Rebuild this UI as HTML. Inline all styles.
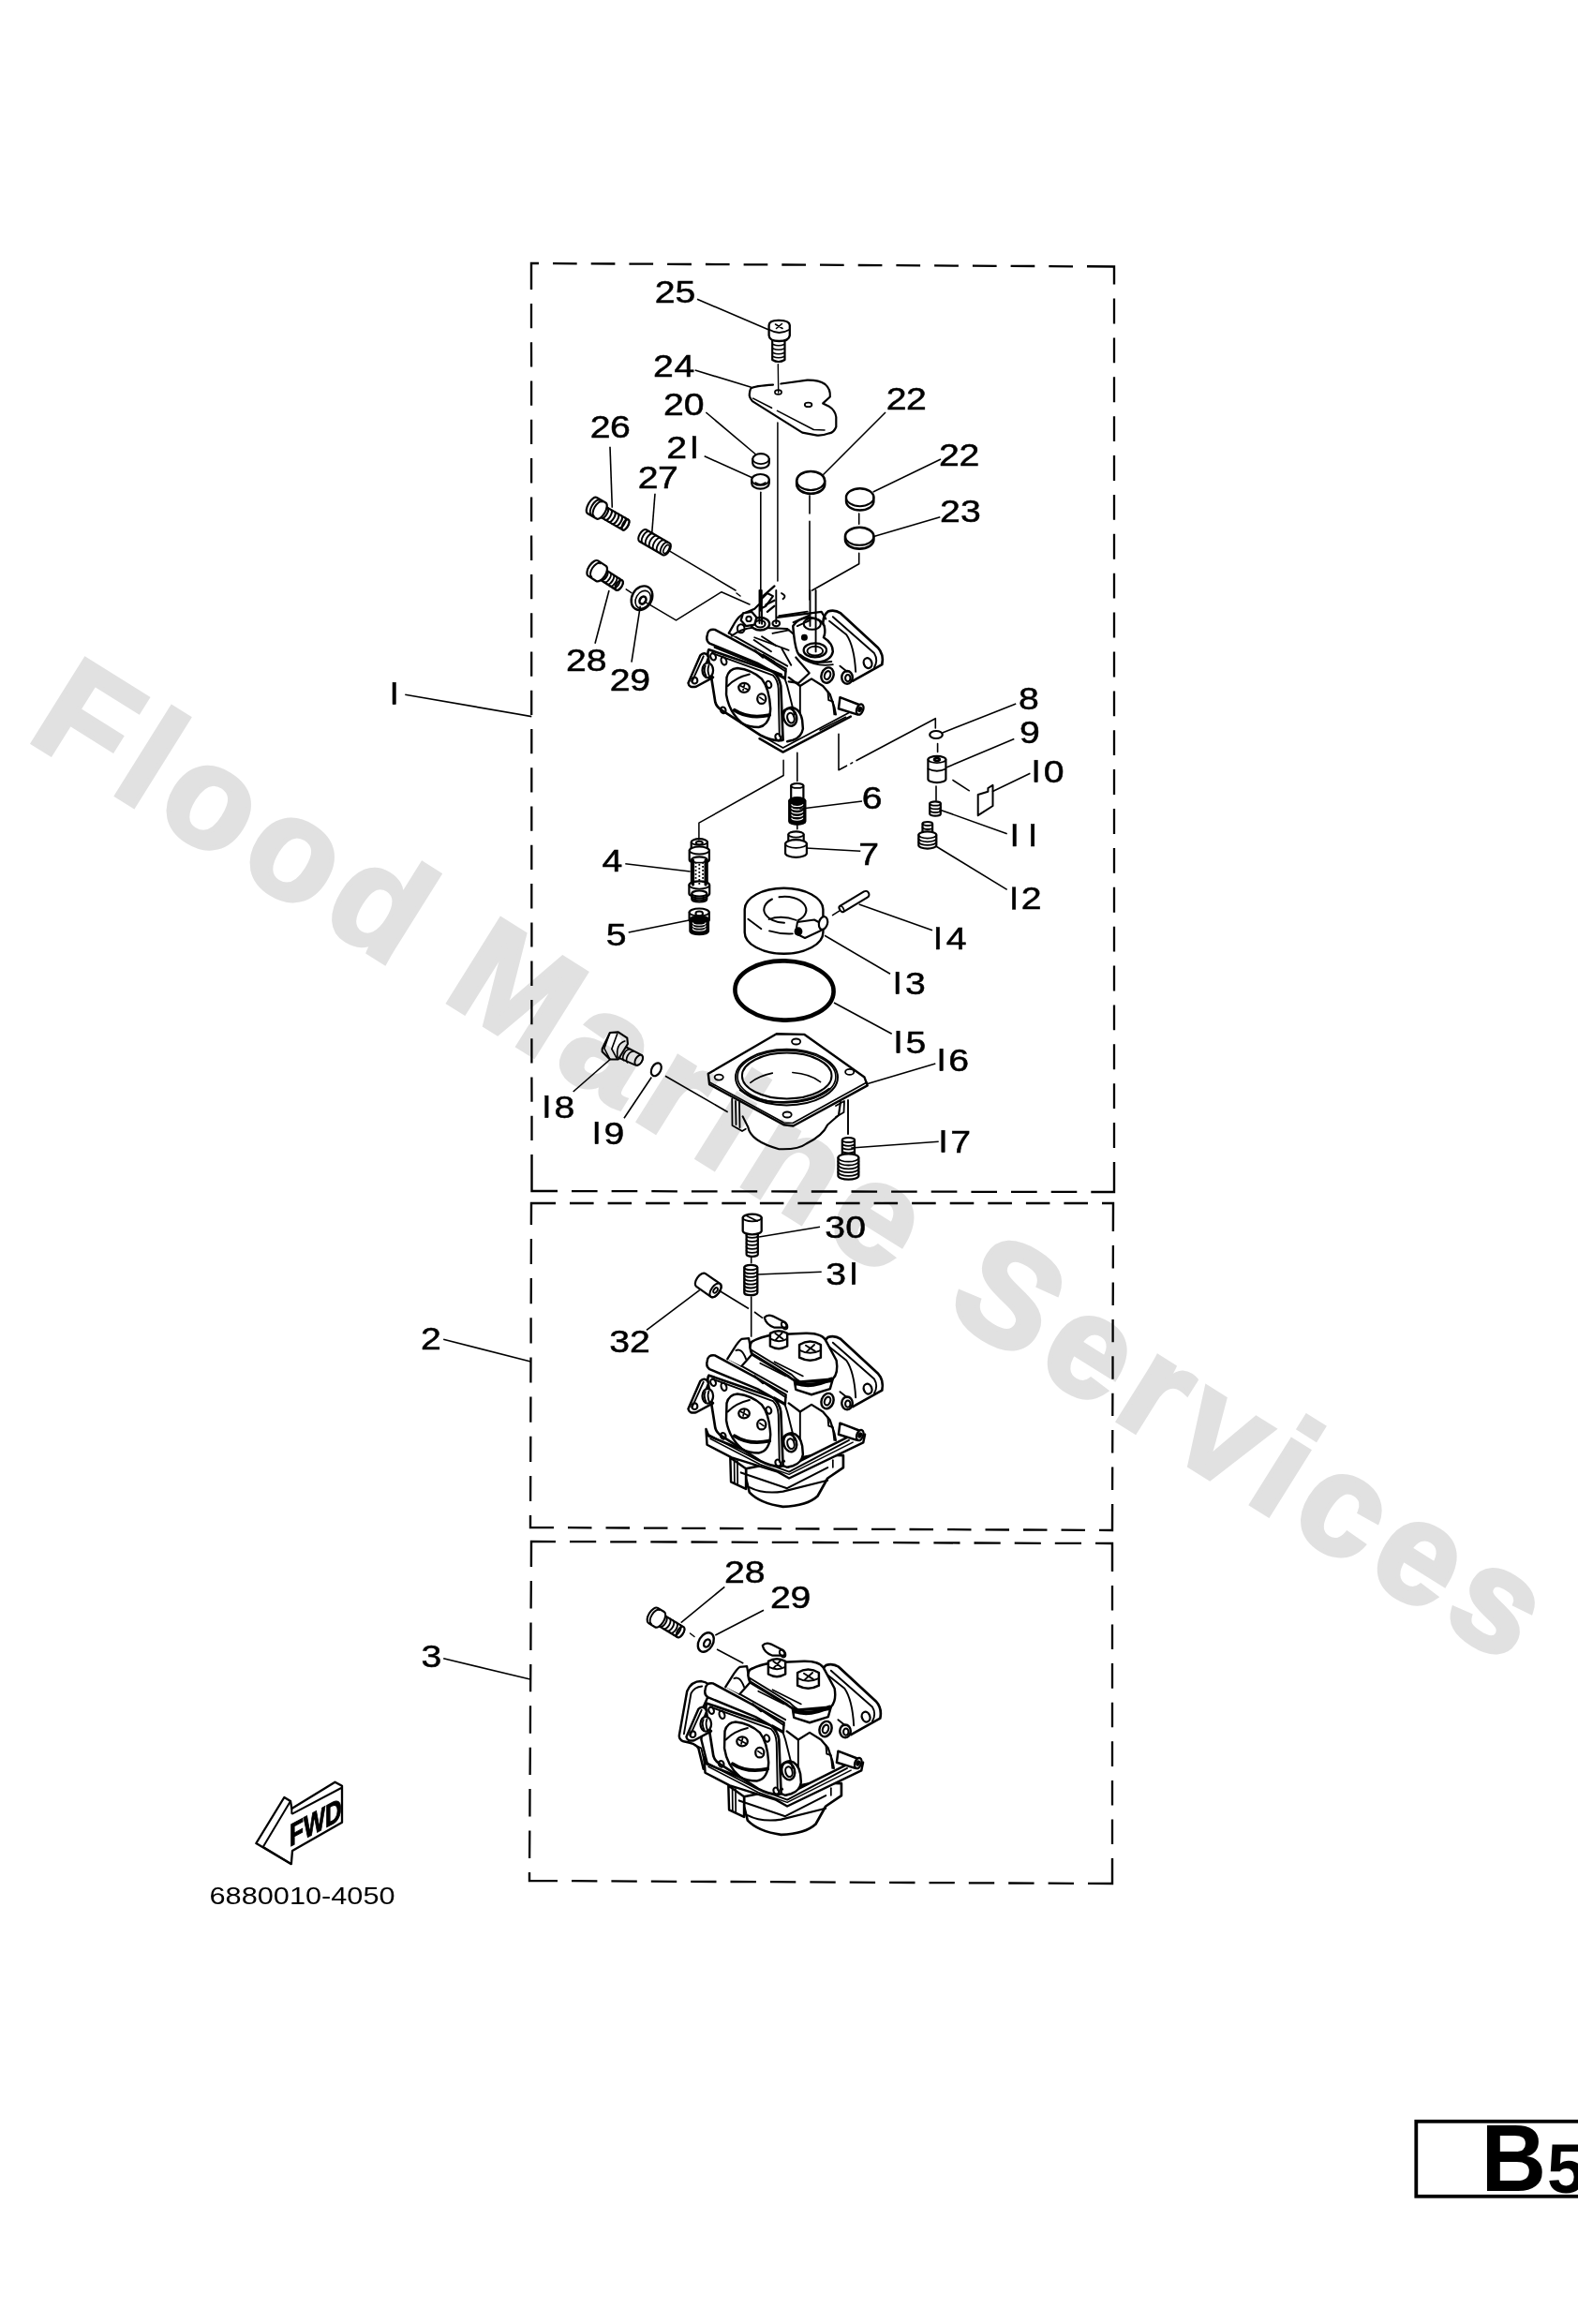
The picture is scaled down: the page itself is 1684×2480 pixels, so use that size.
<!DOCTYPE html>
<html><head><meta charset="utf-8">
<style>
html,body{margin:0;padding:0;background:#fff;}
body{width:1684px;height:2480px;overflow:hidden;position:relative;}
svg{position:absolute;left:0;top:0;}
text{font-family:"Liberation Sans",sans-serif;}
</style></head><body>
<svg width="1684" height="2480" viewBox="0 0 1684 2480">
<g id="carb1"><g transform="translate(720,625.5) scale(0.152091)"><path d="M1040,300 Q1035,205 1075,178 Q1120,160 1165,190 L1425,430 Q1470,480 1455,550 L1250,665 L1225,640" fill="#fff" stroke="#000" stroke-width="17.5" stroke-linejoin="round" stroke-linecap="round"/><path d="M1085,245 L1205,340 Q1260,420 1270,600" fill="none" stroke="#000" stroke-width="12.5" stroke-linejoin="round" stroke-linecap="round"/><path d="M1110,215 L1400,470 Q1430,520 1400,570" fill="none" stroke="#000" stroke-width="12.5" stroke-linejoin="round" stroke-linecap="round"/><ellipse cx="1355" cy="540" rx="28" ry="36" fill="none" stroke="#000" stroke-width="15.0" transform="rotate(-20 1355 540)"/><path d="M800,640 L880,700 L960,650 L1040,700 L1090,760 L1120,850 L1130,900" fill="none" stroke="#000" stroke-width="15.0" stroke-linejoin="round" stroke-linecap="round"/><path d="M880,700 L880,1010" fill="none" stroke="#000" stroke-width="12.5" stroke-linejoin="round" stroke-linecap="round"/><path d="M1075,740 L1080,800 L1110,810 L1120,900" fill="none" stroke="#000" stroke-width="12.5" stroke-linejoin="round" stroke-linecap="round"/><ellipse cx="1072" cy="625" rx="42" ry="55" fill="#fff" stroke="#000" stroke-width="16.2" transform="rotate(20 1072 625)"/><ellipse cx="1072" cy="625" rx="20" ry="30" fill="none" stroke="#000" stroke-width="13.8" transform="rotate(20 1072 625)"/><ellipse cx="1210" cy="640" rx="38" ry="45" fill="#fff" stroke="#000" stroke-width="16.2"/><ellipse cx="1215" cy="645" rx="18" ry="24" fill="none" stroke="#000" stroke-width="13.8"/><path d="M1160,560 L1210,600" fill="none" stroke="#000" stroke-width="12.5" stroke-linejoin="round" stroke-linecap="round"/><path d="M1160,780 L1290,830 A22,38 0 0 1 1280,900 L1150,860 Z" fill="#fff" stroke="#000" stroke-width="16.2" stroke-linejoin="round" stroke-linecap="round"/><ellipse cx="1300" cy="865" rx="22" ry="38" fill="#fff" stroke="#000" stroke-width="16.2" transform="rotate(20 1300 865)"/><ellipse cx="1300" cy="865" rx="8" ry="14" fill="#000" stroke="#000" stroke-width="15.0" transform="rotate(20 1300 865)"/><path d="M740,940 Q750,860 820,850 Q880,860 895,940 L900,1000 Q890,1060 830,1080 L790,1090" fill="#fff" stroke="#000" stroke-width="16.2" stroke-linejoin="round" stroke-linecap="round"/><ellipse cx="810" cy="920" rx="45" ry="62" fill="#fff" stroke="#000" stroke-width="16.2" transform="rotate(-15 810 920)"/><ellipse cx="815" cy="925" rx="24" ry="36" fill="none" stroke="#000" stroke-width="13.8" transform="rotate(-15 815 925)"/><path d="M240,445 Q228,460 235,500 L285,815 Q295,850 330,870 L600,1045 Q700,1095 760,1080 L745,700 Q735,640 690,600 Z" fill="#fff" stroke="#000" stroke-width="17.5" stroke-linejoin="round" stroke-linecap="round"/><path d="M262,470 L690,625 Q725,660 728,720 L735,1050" fill="none" stroke="#000" stroke-width="12.5" stroke-linejoin="round" stroke-linecap="round"/><path d="M365,640 Q380,580 440,575 Q540,585 610,650 Q665,720 672,860 Q668,975 590,990 Q520,990 470,960 Q380,880 362,760 Z" fill="none" stroke="#000" stroke-width="16.2" stroke-linejoin="round" stroke-linecap="round"/><path d="M372,700 Q430,640 525,618" fill="none" stroke="#000" stroke-width="13.8" stroke-linejoin="round" stroke-linecap="round"/><path d="M420,870 Q520,935 665,905" fill="none" stroke="#000" stroke-width="25.0" stroke-linejoin="round" stroke-linecap="round"/><ellipse cx="487" cy="712" rx="38" ry="33" fill="none" stroke="#000" stroke-width="15.0"/><path d="M465,700 L510,725 M490,690 L480,730" fill="none" stroke="#000" stroke-width="11.2" stroke-linejoin="round" stroke-linecap="round"/><ellipse cx="610" cy="790" rx="30" ry="35" fill="none" stroke="#000" stroke-width="15.0"/><path d="M597,780 L625,800" fill="none" stroke="#000" stroke-width="11.2" stroke-linejoin="round" stroke-linecap="round"/><ellipse cx="270" cy="495" rx="18" ry="25" fill="none" stroke="#000" stroke-width="13.8" transform="rotate(-20 270 495)"/><ellipse cx="345" cy="525" rx="18" ry="28" fill="none" stroke="#000" stroke-width="13.8" transform="rotate(-20 345 525)"/><ellipse cx="660" cy="690" rx="18" ry="25" fill="none" stroke="#000" stroke-width="13.8" transform="rotate(-20 660 690)"/><ellipse cx="340" cy="870" rx="18" ry="22" fill="none" stroke="#000" stroke-width="13.8" transform="rotate(-20 340 870)"/><ellipse cx="725" cy="1060" rx="18" ry="25" fill="none" stroke="#000" stroke-width="13.8" transform="rotate(-20 725 1060)"/><path d="M95,680 L180,485 Q200,462 225,478 L238,500 L205,590 L270,640 L150,705 Q100,715 95,680 Z" fill="#fff" stroke="#000" stroke-width="16.2" stroke-linejoin="round" stroke-linecap="round"/><path d="M122,668 L202,492" fill="none" stroke="#000" stroke-width="12.5" stroke-linejoin="round" stroke-linecap="round"/><ellipse cx="140" cy="662" rx="20" ry="22" fill="none" stroke="#000" stroke-width="13.8"/><ellipse cx="232" cy="590" rx="38" ry="52" fill="#fff" stroke="#000" stroke-width="15.0"/><path d="M215,560 Q200,590 220,630 M240,555 Q225,595 245,635" fill="none" stroke="#000" stroke-width="12.5" stroke-linejoin="round" stroke-linecap="round"/><path d="M228,345 Q232,298 282,305 L560,455 L780,580 L775,650 L580,540 L245,402 Q218,385 228,345 Z" fill="#fff" stroke="#000" stroke-width="16.2" stroke-linejoin="round" stroke-linecap="round"/><path d="M380,330 L790,560" fill="none" stroke="#000" stroke-width="12.5" stroke-linejoin="round" stroke-linecap="round"/><path d="M600,480 L780,600" fill="none" stroke="#000" stroke-width="11.2" stroke-linejoin="round" stroke-linecap="round"/><path d="M560,450 L620,500" fill="none" stroke="#000" stroke-width="15.0" stroke-linejoin="round" stroke-linecap="round"/><path d="M700,600 L770,640 L790,700 L840,900" fill="none" stroke="#000" stroke-width="12.5" stroke-linejoin="round" stroke-linecap="round"/></g><g transform="translate(720,630) scale(0.152091)"><path d="M380,300 L420,230 Q450,180 490,160 L560,130 L590,100 M720,190 L1030,150 L1060,200" fill="none" stroke="#000" stroke-width="15.0" stroke-linejoin="round" stroke-linecap="round"/><path d="M400,320 Q460,270 560,260 L790,270 L850,320" fill="#fff" stroke="#000" stroke-width="13.8" stroke-linejoin="round" stroke-linecap="round"/><ellipse cx="600" cy="235" rx="65" ry="45" fill="#fff" stroke="#000" stroke-width="16.2"/><ellipse cx="600" cy="235" rx="35" ry="25" fill="none" stroke="#000" stroke-width="13.8"/><ellipse cx="712" cy="232" rx="25" ry="20" fill="none" stroke="#000" stroke-width="13.8"/><ellipse cx="465" cy="268" rx="25" ry="30" fill="none" stroke="#000" stroke-width="13.8"/><path d="M830,250 Q860,200 940,190 Q1030,195 1050,250 Q1060,300 1045,330 Q1110,370 1110,430 Q1100,490 1010,505 Q890,500 860,430 Q840,380 830,250 Z" fill="#fff" stroke="#000" stroke-width="16.2" stroke-linejoin="round" stroke-linecap="round"/><ellipse cx="985" cy="420" rx="80" ry="50" fill="none" stroke="#000" stroke-width="15.0"/><ellipse cx="985" cy="425" rx="55" ry="32" fill="none" stroke="#000" stroke-width="12.5"/><ellipse cx="965" cy="235" rx="60" ry="40" fill="none" stroke="#000" stroke-width="13.8"/><ellipse cx="910" cy="330" rx="18" ry="18" fill="#000" stroke="#000" stroke-width="10.0"/><path d="M850,470 L945,580 L870,650 L800,640" fill="none" stroke="#000" stroke-width="13.8" stroke-linejoin="round" stroke-linecap="round"/><path d="M560,330 L800,420 M620,450 L700,500" fill="none" stroke="#000" stroke-width="11.2" stroke-linejoin="round" stroke-linecap="round"/><path d="M480,160 L540,150 L575,190 L560,240 L500,250 L465,210 Z" fill="#fff" stroke="#000" stroke-width="15.0" stroke-linejoin="round" stroke-linecap="round"/><ellipse cx="520" cy="200" rx="18" ry="18" fill="none" stroke="#000" stroke-width="12.5"/><path d="M280,400 L750,590 M557,349 L677,429 M612,324 L712,389 M752,409 L817,524" fill="none" stroke="#000" stroke-width="12.5" stroke-linejoin="round" stroke-linecap="round"/><path d="M687,302 L802,279 M732,179 L932,149" fill="none" stroke="#000" stroke-width="12.5" stroke-linejoin="round" stroke-linecap="round"/><path d="M832,224 L947,174 M860,250 L950,210 M880,450 Q960,520 1100,500 M900,480 Q1000,540 1110,520" fill="none" stroke="#000" stroke-width="12.5" stroke-linejoin="round" stroke-linecap="round"/><path d="M610,60 L650,20 L690,40 L640,110 L600,130 Z" fill="none" stroke="#000" stroke-width="13.8" stroke-linejoin="round" stroke-linecap="round"/><path d="M620,40 L700,-30 M640,100 L700,70 M650,150 L700,110" fill="none" stroke="#000" stroke-width="15.0" stroke-linejoin="round" stroke-linecap="round"/><path d="M750,20 Q790,40 760,60" fill="none" stroke="#000" stroke-width="12.5" stroke-linejoin="round" stroke-linecap="round"/><path d="M595,0 L595,230 M610,0 L612,235 M712,0 L712,230 M950,0 L950,250 M990,0 L990,430" fill="none" stroke="#000" stroke-width="12.5" stroke-linejoin="round" stroke-linecap="round"/><path d="M595,1040 L760,1135 L1235,885" fill="none" stroke="#000" stroke-width="16.2" stroke-linejoin="round" stroke-linecap="round"/><path d="M610,1020 L760,1105 L1220,860" fill="none" stroke="#000" stroke-width="11.2" stroke-linejoin="round" stroke-linecap="round"/><path d="M1020,980 L1200,890" fill="none" stroke="#000" stroke-width="11.2" stroke-linejoin="round" stroke-linecap="round"/></g></g><g id="carb2" transform="translate(720,1400) scale(0.152091)"><path d="M500,1167 L525,1267 Q600,1345 760,1367 Q930,1360 1003,1292 L1073,1167 L1183,1092 L1183,1007 L1000,1000 L500,1100 Z" fill="#fff" stroke="#000" stroke-width="17.5" stroke-linejoin="round" stroke-linecap="round"/><path d="M390,1022 L395,1192 L500,1242 L500,1100 Z" fill="#fff" stroke="#000" stroke-width="16.2" stroke-linejoin="round" stroke-linecap="round"/><path d="M418,1035 L420,1200 M440,1045 L442,1210" fill="none" stroke="#000" stroke-width="11.2" stroke-linejoin="round" stroke-linecap="round"/><path d="M465,1127 L789,1237 L1073,1092" fill="none" stroke="#000" stroke-width="13.8" stroke-linejoin="round" stroke-linecap="round"/><path d="M525,1230 Q620,1280 760,1260 L1073,1182" fill="none" stroke="#000" stroke-width="13.8" stroke-linejoin="round" stroke-linecap="round"/><path d="M1110,1040 L1110,1090" fill="none" stroke="#000" stroke-width="11.2" stroke-linejoin="round" stroke-linecap="round"/><path d="M220,822 L227,932 L400,1022 L723,1122 L803,1167 L1323,917 L1335,860 L1250,860 L790,1090 L240,872 Z" fill="#fff" stroke="#000" stroke-width="16.2" stroke-linejoin="round" stroke-linecap="round"/><path d="M235,860 L585,1042 L803,1122 L1223,900" fill="none" stroke="#000" stroke-width="12.5" stroke-linejoin="round" stroke-linecap="round"/><path d="M250,890 L600,1070 L803,1140 L1250,915" fill="none" stroke="#000" stroke-width="10.0" stroke-linejoin="round" stroke-linecap="round"/><path d="M1040,300 Q1035,205 1075,178 Q1120,160 1165,190 L1425,430 Q1470,480 1455,550 L1250,665 L1225,640" fill="#fff" stroke="#000" stroke-width="17.5" stroke-linejoin="round" stroke-linecap="round"/><path d="M1085,245 L1205,340 Q1260,420 1270,600" fill="none" stroke="#000" stroke-width="12.5" stroke-linejoin="round" stroke-linecap="round"/><path d="M1110,215 L1400,470 Q1430,520 1400,570" fill="none" stroke="#000" stroke-width="12.5" stroke-linejoin="round" stroke-linecap="round"/><ellipse cx="1355" cy="540" rx="28" ry="36" fill="none" stroke="#000" stroke-width="15.0" transform="rotate(-20 1355 540)"/><path d="M800,640 L880,700 L960,650 L1040,700 L1090,760 L1120,850 L1130,900" fill="none" stroke="#000" stroke-width="15.0" stroke-linejoin="round" stroke-linecap="round"/><path d="M880,700 L880,1010" fill="none" stroke="#000" stroke-width="12.5" stroke-linejoin="round" stroke-linecap="round"/><path d="M1075,740 L1080,800 L1110,810 L1120,900" fill="none" stroke="#000" stroke-width="12.5" stroke-linejoin="round" stroke-linecap="round"/><ellipse cx="1072" cy="625" rx="42" ry="55" fill="#fff" stroke="#000" stroke-width="16.2" transform="rotate(20 1072 625)"/><ellipse cx="1072" cy="625" rx="20" ry="30" fill="none" stroke="#000" stroke-width="13.8" transform="rotate(20 1072 625)"/><ellipse cx="1210" cy="640" rx="38" ry="45" fill="#fff" stroke="#000" stroke-width="16.2"/><ellipse cx="1215" cy="645" rx="18" ry="24" fill="none" stroke="#000" stroke-width="13.8"/><path d="M1160,560 L1210,600" fill="none" stroke="#000" stroke-width="12.5" stroke-linejoin="round" stroke-linecap="round"/><path d="M1160,780 L1290,830 A22,38 0 0 1 1280,900 L1150,860 Z" fill="#fff" stroke="#000" stroke-width="16.2" stroke-linejoin="round" stroke-linecap="round"/><ellipse cx="1300" cy="865" rx="22" ry="38" fill="#fff" stroke="#000" stroke-width="16.2" transform="rotate(20 1300 865)"/><ellipse cx="1300" cy="865" rx="8" ry="14" fill="#000" stroke="#000" stroke-width="15.0" transform="rotate(20 1300 865)"/><path d="M740,940 Q750,860 820,850 Q880,860 895,940 L900,1000 Q890,1060 830,1080 L790,1090" fill="#fff" stroke="#000" stroke-width="16.2" stroke-linejoin="round" stroke-linecap="round"/><ellipse cx="810" cy="920" rx="45" ry="62" fill="#fff" stroke="#000" stroke-width="16.2" transform="rotate(-15 810 920)"/><ellipse cx="815" cy="925" rx="24" ry="36" fill="none" stroke="#000" stroke-width="13.8" transform="rotate(-15 815 925)"/><path d="M240,445 Q228,460 235,500 L285,815 Q295,850 330,870 L600,1045 Q700,1095 760,1080 L745,700 Q735,640 690,600 Z" fill="#fff" stroke="#000" stroke-width="17.5" stroke-linejoin="round" stroke-linecap="round"/><path d="M262,470 L690,625 Q725,660 728,720 L735,1050" fill="none" stroke="#000" stroke-width="12.5" stroke-linejoin="round" stroke-linecap="round"/><path d="M365,640 Q380,580 440,575 Q540,585 610,650 Q665,720 672,860 Q668,975 590,990 Q520,990 470,960 Q380,880 362,760 Z" fill="none" stroke="#000" stroke-width="16.2" stroke-linejoin="round" stroke-linecap="round"/><path d="M372,700 Q430,640 525,618" fill="none" stroke="#000" stroke-width="13.8" stroke-linejoin="round" stroke-linecap="round"/><path d="M420,870 Q520,935 665,905" fill="none" stroke="#000" stroke-width="25.0" stroke-linejoin="round" stroke-linecap="round"/><ellipse cx="487" cy="712" rx="38" ry="33" fill="none" stroke="#000" stroke-width="15.0"/><path d="M465,700 L510,725 M490,690 L480,730" fill="none" stroke="#000" stroke-width="11.2" stroke-linejoin="round" stroke-linecap="round"/><ellipse cx="610" cy="790" rx="30" ry="35" fill="none" stroke="#000" stroke-width="15.0"/><path d="M597,780 L625,800" fill="none" stroke="#000" stroke-width="11.2" stroke-linejoin="round" stroke-linecap="round"/><ellipse cx="270" cy="495" rx="18" ry="25" fill="none" stroke="#000" stroke-width="13.8" transform="rotate(-20 270 495)"/><ellipse cx="345" cy="525" rx="18" ry="28" fill="none" stroke="#000" stroke-width="13.8" transform="rotate(-20 345 525)"/><ellipse cx="660" cy="690" rx="18" ry="25" fill="none" stroke="#000" stroke-width="13.8" transform="rotate(-20 660 690)"/><ellipse cx="340" cy="870" rx="18" ry="22" fill="none" stroke="#000" stroke-width="13.8" transform="rotate(-20 340 870)"/><ellipse cx="725" cy="1060" rx="18" ry="25" fill="none" stroke="#000" stroke-width="13.8" transform="rotate(-20 725 1060)"/><path d="M95,680 L180,485 Q200,462 225,478 L238,500 L205,590 L270,640 L150,705 Q100,715 95,680 Z" fill="#fff" stroke="#000" stroke-width="16.2" stroke-linejoin="round" stroke-linecap="round"/><path d="M122,668 L202,492" fill="none" stroke="#000" stroke-width="12.5" stroke-linejoin="round" stroke-linecap="round"/><ellipse cx="140" cy="662" rx="20" ry="22" fill="none" stroke="#000" stroke-width="13.8"/><ellipse cx="232" cy="590" rx="38" ry="52" fill="#fff" stroke="#000" stroke-width="15.0"/><path d="M215,560 Q200,590 220,630 M240,555 Q225,595 245,635" fill="none" stroke="#000" stroke-width="12.5" stroke-linejoin="round" stroke-linecap="round"/><path d="M228,345 Q232,298 282,305 L560,455 L780,580 L775,650 L580,540 L245,402 Q218,385 228,345 Z" fill="#fff" stroke="#000" stroke-width="16.2" stroke-linejoin="round" stroke-linecap="round"/><path d="M380,330 L790,560" fill="none" stroke="#000" stroke-width="12.5" stroke-linejoin="round" stroke-linecap="round"/><path d="M600,480 L780,600" fill="none" stroke="#000" stroke-width="11.2" stroke-linejoin="round" stroke-linecap="round"/><path d="M560,450 L620,500" fill="none" stroke="#000" stroke-width="15.0" stroke-linejoin="round" stroke-linecap="round"/><path d="M700,600 L770,640 L790,700 L840,900" fill="none" stroke="#000" stroke-width="12.5" stroke-linejoin="round" stroke-linecap="round"/><path d="M370,330 L420,250 Q450,205 470,190 L520,185 L540,300 L470,380" fill="#fff" stroke="#000" stroke-width="15.0" stroke-linejoin="round" stroke-linecap="round"/><path d="M430,270 Q470,250 500,330" fill="none" stroke="#000" stroke-width="12.5" stroke-linejoin="round" stroke-linecap="round"/><path d="M540,210 Q600,175 700,160 L920,150 Q1040,148 1065,210 L1135,340 Q1150,430 1110,470 L880,490 Q820,478 800,450 L545,295 Q515,250 540,210 Z" fill="#fff" stroke="#000" stroke-width="16.2" stroke-linejoin="round" stroke-linecap="round"/><path d="M535,265 L820,440 Q860,480 890,495 L1105,480" fill="none" stroke="#000" stroke-width="12.5" stroke-linejoin="round" stroke-linecap="round"/><path d="M545,300 L840,480 L850,545 L960,580 L1090,540 L1110,470" fill="none" stroke="#000" stroke-width="16.2" stroke-linejoin="round" stroke-linecap="round"/><path d="M850,500 Q960,540 1100,470" fill="none" stroke="#000" stroke-width="25.0" stroke-linejoin="round" stroke-linecap="round"/><path d="M850,510 L1100,490" fill="none" stroke="#000" stroke-width="11.2" stroke-linejoin="round" stroke-linecap="round"/><path d="M600,360 L780,450 M700,350 L900,450" fill="none" stroke="#000" stroke-width="11.2" stroke-linejoin="round" stroke-linecap="round"/><path d="M670,150 Q730,115 790,150 L790,240 Q730,275 670,240 Z" fill="#fff" stroke="#000" stroke-width="16.2" stroke-linejoin="round" stroke-linecap="round"/><path d="M675,190 Q730,220 788,190" fill="none" stroke="#000" stroke-width="12.5" stroke-linejoin="round" stroke-linecap="round"/><path d="M705,150 L760,190 M755,145 L710,195" fill="none" stroke="#000" stroke-width="12.5" stroke-linejoin="round" stroke-linecap="round"/><path d="M875,230 Q950,185 1025,230 L1025,320 Q950,360 875,320 Z" fill="#fff" stroke="#000" stroke-width="16.2" stroke-linejoin="round" stroke-linecap="round"/><path d="M880,270 Q950,305 1022,270" fill="none" stroke="#000" stroke-width="12.5" stroke-linejoin="round" stroke-linecap="round"/><path d="M920,235 L985,275 M980,230 L925,280" fill="none" stroke="#000" stroke-width="12.5" stroke-linejoin="round" stroke-linecap="round"/><path d="M630,40 Q650,15 690,30 L770,70 Q795,95 780,110 L700,110 Q640,90 630,40 Z" fill="#fff" stroke="#000" stroke-width="15.0" stroke-linejoin="round" stroke-linecap="round"/><ellipse cx="770" cy="95" rx="18" ry="28" fill="none" stroke="#000" stroke-width="13.8" transform="rotate(-30 770 95)"/></g><g id="carb3" transform="translate(718,1750) scale(0.152091)"><path d="M45,670 L100,360 Q130,290 200,290 Q262,300 270,345 L215,470 L205,600 L200,700 L240,860 L215,905 L180,760 Q160,725 75,712 Q42,700 45,670 Z" fill="#fff" stroke="#000" stroke-width="16.2" stroke-linejoin="round" stroke-linecap="round"/><path d="M78,660 L128,375 Q150,330 205,325" fill="none" stroke="#000" stroke-width="12.5" stroke-linejoin="round" stroke-linecap="round"/><path d="M160,740 L200,760 L225,870" fill="none" stroke="#000" stroke-width="12.5" stroke-linejoin="round" stroke-linecap="round"/><path d="M500,1167 L525,1267 Q600,1345 760,1367 Q930,1360 1003,1292 L1073,1167 L1183,1092 L1183,1007 L1000,1000 L500,1100 Z" fill="#fff" stroke="#000" stroke-width="17.5" stroke-linejoin="round" stroke-linecap="round"/><path d="M390,1022 L395,1192 L500,1242 L500,1100 Z" fill="#fff" stroke="#000" stroke-width="16.2" stroke-linejoin="round" stroke-linecap="round"/><path d="M418,1035 L420,1200 M440,1045 L442,1210" fill="none" stroke="#000" stroke-width="11.2" stroke-linejoin="round" stroke-linecap="round"/><path d="M465,1127 L789,1237 L1073,1092" fill="none" stroke="#000" stroke-width="13.8" stroke-linejoin="round" stroke-linecap="round"/><path d="M525,1230 Q620,1280 760,1260 L1073,1182" fill="none" stroke="#000" stroke-width="13.8" stroke-linejoin="round" stroke-linecap="round"/><path d="M1110,1040 L1110,1090" fill="none" stroke="#000" stroke-width="11.2" stroke-linejoin="round" stroke-linecap="round"/><path d="M220,822 L227,932 L400,1022 L723,1122 L803,1167 L1323,917 L1335,860 L1250,860 L790,1090 L240,872 Z" fill="#fff" stroke="#000" stroke-width="16.2" stroke-linejoin="round" stroke-linecap="round"/><path d="M235,860 L585,1042 L803,1122 L1223,900" fill="none" stroke="#000" stroke-width="12.5" stroke-linejoin="round" stroke-linecap="round"/><path d="M250,890 L600,1070 L803,1140 L1250,915" fill="none" stroke="#000" stroke-width="10.0" stroke-linejoin="round" stroke-linecap="round"/><path d="M1040,300 Q1035,205 1075,178 Q1120,160 1165,190 L1425,430 Q1470,480 1455,550 L1250,665 L1225,640" fill="#fff" stroke="#000" stroke-width="17.5" stroke-linejoin="round" stroke-linecap="round"/><path d="M1085,245 L1205,340 Q1260,420 1270,600" fill="none" stroke="#000" stroke-width="12.5" stroke-linejoin="round" stroke-linecap="round"/><path d="M1110,215 L1400,470 Q1430,520 1400,570" fill="none" stroke="#000" stroke-width="12.5" stroke-linejoin="round" stroke-linecap="round"/><ellipse cx="1355" cy="540" rx="28" ry="36" fill="none" stroke="#000" stroke-width="15.0" transform="rotate(-20 1355 540)"/><path d="M800,640 L880,700 L960,650 L1040,700 L1090,760 L1120,850 L1130,900" fill="none" stroke="#000" stroke-width="15.0" stroke-linejoin="round" stroke-linecap="round"/><path d="M880,700 L880,1010" fill="none" stroke="#000" stroke-width="12.5" stroke-linejoin="round" stroke-linecap="round"/><path d="M1075,740 L1080,800 L1110,810 L1120,900" fill="none" stroke="#000" stroke-width="12.5" stroke-linejoin="round" stroke-linecap="round"/><ellipse cx="1072" cy="625" rx="42" ry="55" fill="#fff" stroke="#000" stroke-width="16.2" transform="rotate(20 1072 625)"/><ellipse cx="1072" cy="625" rx="20" ry="30" fill="none" stroke="#000" stroke-width="13.8" transform="rotate(20 1072 625)"/><ellipse cx="1210" cy="640" rx="38" ry="45" fill="#fff" stroke="#000" stroke-width="16.2"/><ellipse cx="1215" cy="645" rx="18" ry="24" fill="none" stroke="#000" stroke-width="13.8"/><path d="M1160,560 L1210,600" fill="none" stroke="#000" stroke-width="12.5" stroke-linejoin="round" stroke-linecap="round"/><path d="M1160,780 L1290,830 A22,38 0 0 1 1280,900 L1150,860 Z" fill="#fff" stroke="#000" stroke-width="16.2" stroke-linejoin="round" stroke-linecap="round"/><ellipse cx="1300" cy="865" rx="22" ry="38" fill="#fff" stroke="#000" stroke-width="16.2" transform="rotate(20 1300 865)"/><ellipse cx="1300" cy="865" rx="8" ry="14" fill="#000" stroke="#000" stroke-width="15.0" transform="rotate(20 1300 865)"/><path d="M740,940 Q750,860 820,850 Q880,860 895,940 L900,1000 Q890,1060 830,1080 L790,1090" fill="#fff" stroke="#000" stroke-width="16.2" stroke-linejoin="round" stroke-linecap="round"/><ellipse cx="810" cy="920" rx="45" ry="62" fill="#fff" stroke="#000" stroke-width="16.2" transform="rotate(-15 810 920)"/><ellipse cx="815" cy="925" rx="24" ry="36" fill="none" stroke="#000" stroke-width="13.8" transform="rotate(-15 815 925)"/><path d="M240,445 Q228,460 235,500 L285,815 Q295,850 330,870 L600,1045 Q700,1095 760,1080 L745,700 Q735,640 690,600 Z" fill="#fff" stroke="#000" stroke-width="17.5" stroke-linejoin="round" stroke-linecap="round"/><path d="M262,470 L690,625 Q725,660 728,720 L735,1050" fill="none" stroke="#000" stroke-width="12.5" stroke-linejoin="round" stroke-linecap="round"/><path d="M365,640 Q380,580 440,575 Q540,585 610,650 Q665,720 672,860 Q668,975 590,990 Q520,990 470,960 Q380,880 362,760 Z" fill="none" stroke="#000" stroke-width="16.2" stroke-linejoin="round" stroke-linecap="round"/><path d="M372,700 Q430,640 525,618" fill="none" stroke="#000" stroke-width="13.8" stroke-linejoin="round" stroke-linecap="round"/><path d="M420,870 Q520,935 665,905" fill="none" stroke="#000" stroke-width="25.0" stroke-linejoin="round" stroke-linecap="round"/><ellipse cx="487" cy="712" rx="38" ry="33" fill="none" stroke="#000" stroke-width="15.0"/><path d="M465,700 L510,725 M490,690 L480,730" fill="none" stroke="#000" stroke-width="11.2" stroke-linejoin="round" stroke-linecap="round"/><ellipse cx="610" cy="790" rx="30" ry="35" fill="none" stroke="#000" stroke-width="15.0"/><path d="M597,780 L625,800" fill="none" stroke="#000" stroke-width="11.2" stroke-linejoin="round" stroke-linecap="round"/><ellipse cx="270" cy="495" rx="18" ry="25" fill="none" stroke="#000" stroke-width="13.8" transform="rotate(-20 270 495)"/><ellipse cx="345" cy="525" rx="18" ry="28" fill="none" stroke="#000" stroke-width="13.8" transform="rotate(-20 345 525)"/><ellipse cx="660" cy="690" rx="18" ry="25" fill="none" stroke="#000" stroke-width="13.8" transform="rotate(-20 660 690)"/><ellipse cx="340" cy="870" rx="18" ry="22" fill="none" stroke="#000" stroke-width="13.8" transform="rotate(-20 340 870)"/><ellipse cx="725" cy="1060" rx="18" ry="25" fill="none" stroke="#000" stroke-width="13.8" transform="rotate(-20 725 1060)"/><path d="M95,680 L180,485 Q200,462 225,478 L238,500 L205,590 L270,640 L150,705 Q100,715 95,680 Z" fill="#fff" stroke="#000" stroke-width="16.2" stroke-linejoin="round" stroke-linecap="round"/><path d="M122,668 L202,492" fill="none" stroke="#000" stroke-width="12.5" stroke-linejoin="round" stroke-linecap="round"/><ellipse cx="140" cy="662" rx="20" ry="22" fill="none" stroke="#000" stroke-width="13.8"/><ellipse cx="232" cy="590" rx="38" ry="52" fill="#fff" stroke="#000" stroke-width="15.0"/><path d="M215,560 Q200,590 220,630 M240,555 Q225,595 245,635" fill="none" stroke="#000" stroke-width="12.5" stroke-linejoin="round" stroke-linecap="round"/><path d="M228,345 Q232,298 282,305 L560,455 L780,580 L775,650 L580,540 L245,402 Q218,385 228,345 Z" fill="#fff" stroke="#000" stroke-width="16.2" stroke-linejoin="round" stroke-linecap="round"/><path d="M380,330 L790,560" fill="none" stroke="#000" stroke-width="12.5" stroke-linejoin="round" stroke-linecap="round"/><path d="M600,480 L780,600" fill="none" stroke="#000" stroke-width="11.2" stroke-linejoin="round" stroke-linecap="round"/><path d="M560,450 L620,500" fill="none" stroke="#000" stroke-width="15.0" stroke-linejoin="round" stroke-linecap="round"/><path d="M700,600 L770,640 L790,700 L840,900" fill="none" stroke="#000" stroke-width="12.5" stroke-linejoin="round" stroke-linecap="round"/><path d="M370,330 L420,250 Q450,205 470,190 L520,185 L540,300 L470,380" fill="#fff" stroke="#000" stroke-width="15.0" stroke-linejoin="round" stroke-linecap="round"/><path d="M430,270 Q470,250 500,330" fill="none" stroke="#000" stroke-width="12.5" stroke-linejoin="round" stroke-linecap="round"/><path d="M540,210 Q600,175 700,160 L920,150 Q1040,148 1065,210 L1135,340 Q1150,430 1110,470 L880,490 Q820,478 800,450 L545,295 Q515,250 540,210 Z" fill="#fff" stroke="#000" stroke-width="16.2" stroke-linejoin="round" stroke-linecap="round"/><path d="M535,265 L820,440 Q860,480 890,495 L1105,480" fill="none" stroke="#000" stroke-width="12.5" stroke-linejoin="round" stroke-linecap="round"/><path d="M545,300 L840,480 L850,545 L960,580 L1090,540 L1110,470" fill="none" stroke="#000" stroke-width="16.2" stroke-linejoin="round" stroke-linecap="round"/><path d="M850,500 Q960,540 1100,470" fill="none" stroke="#000" stroke-width="25.0" stroke-linejoin="round" stroke-linecap="round"/><path d="M850,510 L1100,490" fill="none" stroke="#000" stroke-width="11.2" stroke-linejoin="round" stroke-linecap="round"/><path d="M600,360 L780,450 M700,350 L900,450" fill="none" stroke="#000" stroke-width="11.2" stroke-linejoin="round" stroke-linecap="round"/><path d="M670,150 Q730,115 790,150 L790,240 Q730,275 670,240 Z" fill="#fff" stroke="#000" stroke-width="16.2" stroke-linejoin="round" stroke-linecap="round"/><path d="M675,190 Q730,220 788,190" fill="none" stroke="#000" stroke-width="12.5" stroke-linejoin="round" stroke-linecap="round"/><path d="M705,150 L760,190 M755,145 L710,195" fill="none" stroke="#000" stroke-width="12.5" stroke-linejoin="round" stroke-linecap="round"/><path d="M875,230 Q950,185 1025,230 L1025,320 Q950,360 875,320 Z" fill="#fff" stroke="#000" stroke-width="16.2" stroke-linejoin="round" stroke-linecap="round"/><path d="M880,270 Q950,305 1022,270" fill="none" stroke="#000" stroke-width="12.5" stroke-linejoin="round" stroke-linecap="round"/><path d="M920,235 L985,275 M980,230 L925,280" fill="none" stroke="#000" stroke-width="12.5" stroke-linejoin="round" stroke-linecap="round"/><path d="M630,40 Q650,15 690,30 L770,70 Q795,95 780,110 L700,110 Q640,90 630,40 Z" fill="#fff" stroke="#000" stroke-width="15.0" stroke-linejoin="round" stroke-linecap="round"/><ellipse cx="770" cy="95" rx="18" ry="28" fill="none" stroke="#000" stroke-width="13.8" transform="rotate(-30 770 95)"/></g>
<path d="M824.2,363 L824.2,384 Q830.8,388 837.5,384 L837.5,363" fill="#fff" stroke="#000" stroke-width="2.2" stroke-linejoin="round" stroke-linecap="round" />
<path d="M825,367.5 Q830.8,370.0 837,367.5" fill="none" stroke="#000" stroke-width="1.6" stroke-linejoin="round" stroke-linecap="round" />
<path d="M825,372 Q830.8,374.5 837,372" fill="none" stroke="#000" stroke-width="1.6" stroke-linejoin="round" stroke-linecap="round" />
<path d="M825,376.5 Q830.8,379.0 837,376.5" fill="none" stroke="#000" stroke-width="1.6" stroke-linejoin="round" stroke-linecap="round" />
<path d="M825,380.5 Q830.8,383.0 837,380.5" fill="none" stroke="#000" stroke-width="1.6" stroke-linejoin="round" stroke-linecap="round" />
<path d="M820.6,347 Q821,341.5 831.4,341.8 Q842.5,342 842.8,347 L842.8,358 Q842,364 831.4,364 Q821,364 820.6,358 Z" fill="#fff" stroke="#000" stroke-width="2.3" stroke-linejoin="round" stroke-linecap="round" />
<path d="M821.5,352 Q831.4,358 842,352" fill="none" stroke="#000" stroke-width="1.8" stroke-linejoin="round" stroke-linecap="round" />
<path d="M827.5,346 L835,350.5 M834.5,345.5 L828.5,350.5" fill="none" stroke="#000" stroke-width="1.6" stroke-linejoin="round" stroke-linecap="round" />
<path d="M830.3,388.6 L830.7,419" fill="none" stroke="#000" stroke-width="1.4" stroke-linejoin="round" stroke-linecap="round" />
<path d="M801.4,414.4 Q805,411.8 825,410.6 M833.3,409.5 L861.5,405.7 Q873.7,405.5 880.5,410 Q886.5,415 885.8,423.5 L878.2,430.4 L884.3,433.4 Q891.5,438 892.3,445 L892.3,455.5 Q890,461.5 885.1,462.3 Q878,465 872.1,464.6 L856.2,461.6 L802.9,428.1 Q799,423.5 799.9,419.8 Q800.2,416 801.4,414.4" fill="none" stroke="#000" stroke-width="2.2" stroke-linejoin="round" stroke-linecap="round" />
<path d="M803.7,425.1 L823.5,435.3 M829.5,438.4 L868.3,458.5 M868.3,458.5 L880,459" fill="none" stroke="#000" stroke-width="1.6" stroke-linejoin="round" stroke-linecap="round" />
<ellipse cx="830.5" cy="418.5" rx="3.6" ry="2.4" fill="none" stroke="#000" stroke-width="1.6"/>
<ellipse cx="862.6" cy="431.9" rx="3.8" ry="2.2" fill="none" stroke="#000" stroke-width="1.8"/>
<path d="M829.9,450.9 L829.9,620" fill="none" stroke="#000" stroke-width="1.5" stroke-linejoin="round" stroke-linecap="round" />
<path d="M803.2,489.7 A8.8,5.5 0 0 1 820.8,489.7 L820.8,494.2 A8.8,5.5 0 0 1 803.2,494.2 Z" fill="#fff" stroke="#000" stroke-width="2.2" stroke-linejoin="round" stroke-linecap="round" />
<path d="M803.2,489.7 A8.8,5.5 0 0 0 820.8,489.7" fill="none" stroke="#000" stroke-width="1.7600000000000002" stroke-linejoin="round" stroke-linecap="round" />
<path d="M802.2,512.0 A9.3,6.0 0 0 1 820.8,512.0 L820.8,515.7 A9.3,6.0 0 0 1 802.2,515.7 Z" fill="#fff" stroke="#000" stroke-width="2.2" stroke-linejoin="round" stroke-linecap="round" />
<path d="M802.2,512.0 A9.3,6.0 0 0 0 820.8,512.0" fill="none" stroke="#000" stroke-width="1.7600000000000002" stroke-linejoin="round" stroke-linecap="round" />
<path d="M806,515 Q811.5,519 817,515" fill="none" stroke="#000" stroke-width="1.6" stroke-linejoin="round" stroke-linecap="round" />
<path d="M850.2,513.0 A15.0,10.0 0 0 1 880.2,513.0 L880.2,516.8 A15.0,10.0 0 0 1 850.2,516.8 Z" fill="#fff" stroke="#000" stroke-width="2.6" stroke-linejoin="round" stroke-linecap="round" />
<path d="M850.2,513.0 A15.0,10.0 0 0 0 880.2,513.0" fill="none" stroke="#000" stroke-width="2.08" stroke-linejoin="round" stroke-linecap="round" />
<path d="M903.0,530.7 A14.7,9.5 0 0 1 932.4,530.7 L932.4,535.0 A14.7,9.5 0 0 1 903.0,535.0 Z" fill="#fff" stroke="#000" stroke-width="2.4" stroke-linejoin="round" stroke-linecap="round" />
<path d="M903.0,530.7 A14.7,9.5 0 0 0 932.4,530.7" fill="none" stroke="#000" stroke-width="1.92" stroke-linejoin="round" stroke-linecap="round" />
<path d="M902.0,572.3 A15.2,9.5 0 0 1 932.4,572.3 L932.4,576.1 A15.2,9.5 0 0 1 902.0,576.1 Z" fill="#fff" stroke="#000" stroke-width="2.6" stroke-linejoin="round" stroke-linecap="round" />
<path d="M902.0,572.3 A15.2,9.5 0 0 0 932.4,572.3" fill="none" stroke="#000" stroke-width="2.08" stroke-linejoin="round" stroke-linecap="round" />
<path d="M811.8,525.3 L811.8,652" fill="none" stroke="#000" stroke-width="1.6" stroke-linejoin="round" stroke-linecap="round" />
<path d="M864,528.8 L864,548 M864,556.2 L864,640" fill="none" stroke="#000" stroke-width="1.6" stroke-linejoin="round" stroke-linecap="round" />
<path d="M916.7,548 L916.7,559.2 M916.7,590.2 L916.7,601.7 L866.7,630" fill="none" stroke="#000" stroke-width="1.6" stroke-linejoin="round" stroke-linecap="round" />
<g transform="translate(632.0,539.5) rotate(30)"><path d="M11,-6.2 L41,-6.2 A2.79,6.2 0 0 1 41,6.2 L11,6.2" fill="#fff" stroke="#000" stroke-width="2.2" stroke-linejoin="round" stroke-linecap="round"/><ellipse cx="41" cy="0" rx="2.79" ry="6.2" fill="#fff" stroke="#000" stroke-width="2.2"/><path d="M15.3,-6.2 A2.79,6.2 0 0 1 15.3,6.2" fill="none" stroke="#000" stroke-width="1.9800000000000002" stroke-linejoin="round" stroke-linecap="round"/><path d="M19.6,-6.2 A2.79,6.2 0 0 1 19.6,6.2" fill="none" stroke="#000" stroke-width="1.9800000000000002" stroke-linejoin="round" stroke-linecap="round"/><path d="M23.9,-6.2 A2.79,6.2 0 0 1 23.9,6.2" fill="none" stroke="#000" stroke-width="1.9800000000000002" stroke-linejoin="round" stroke-linecap="round"/><path d="M28.1,-6.2 A2.79,6.2 0 0 1 28.1,6.2" fill="none" stroke="#000" stroke-width="1.9800000000000002" stroke-linejoin="round" stroke-linecap="round"/><path d="M32.4,-6.2 A2.79,6.2 0 0 1 32.4,6.2" fill="none" stroke="#000" stroke-width="1.9800000000000002" stroke-linejoin="round" stroke-linecap="round"/><path d="M36.7,-6.2 A2.79,6.2 0 0 1 36.7,6.2" fill="none" stroke="#000" stroke-width="1.9800000000000002" stroke-linejoin="round" stroke-linecap="round"/><path d="M11,-9.8 L0,-9.8 A4.41,9.8 0 0 0 0,9.8 L11,9.8 A4.41,9.8 0 0 0 11,-9.8" fill="#fff" stroke="#000" stroke-width="2.2" stroke-linejoin="round" stroke-linecap="round"/><path d="M3.8,-8.8 A3.97,8.8 0 0 0 3.8,8.8" fill="none" stroke="#000" stroke-width="1.9800000000000002" stroke-linejoin="round" stroke-linecap="round"/><path d="M7.1,-8.8 A3.97,8.8 0 0 0 7.1,8.8" fill="none" stroke="#000" stroke-width="1.9800000000000002" stroke-linejoin="round" stroke-linecap="round"/></g>
<g transform="translate(686,571.5) rotate(30)"><path d="M0,-7.2 L29,-7.2 A3.6,7.2 0 0 1 29,7.2 L0,7.2 A3.6,7.2 0 0 1 0,-7.2 Z" fill="#fff" stroke="#000" stroke-width="2.1"/><path d="M4.0,-7.2 A3.6,7.2 0 0 0 4.0,7.2" fill="none" stroke="#000" stroke-width="1.9"/><path d="M8.6,-7.2 A3.6,7.2 0 0 0 8.6,7.2" fill="none" stroke="#000" stroke-width="1.9"/><path d="M13.2,-7.2 A3.6,7.2 0 0 0 13.2,7.2" fill="none" stroke="#000" stroke-width="1.9"/><path d="M17.8,-7.2 A3.6,7.2 0 0 0 17.8,7.2" fill="none" stroke="#000" stroke-width="1.9"/><path d="M22.4,-7.2 A3.6,7.2 0 0 0 22.4,7.2" fill="none" stroke="#000" stroke-width="1.9"/><path d="M27.0,-7.2 A3.6,7.2 0 0 0 27.0,7.2" fill="none" stroke="#000" stroke-width="1.9"/><ellipse cx="29" cy="0" rx="2.4" ry="5" fill="none" stroke="#000" stroke-width="1.6"/></g>
<g transform="translate(633.0,606.5) rotate(33)"><path d="M10,-6.0 L33,-6.0 A3.0,6.0 0 0 1 33,6.0 L10,6.0" fill="#fff" stroke="#000" stroke-width="2.2" stroke-linejoin="round" stroke-linecap="round"/><ellipse cx="33" cy="0" rx="3.00" ry="6.0" fill="#fff" stroke="#000" stroke-width="2.2"/><path d="M13.8,-6.0 A3.00,6.0 0 0 1 13.8,6.0" fill="none" stroke="#000" stroke-width="1.9800000000000002" stroke-linejoin="round" stroke-linecap="round"/><path d="M17.7,-6.0 A3.00,6.0 0 0 1 17.7,6.0" fill="none" stroke="#000" stroke-width="1.9800000000000002" stroke-linejoin="round" stroke-linecap="round"/><path d="M21.5,-6.0 A3.00,6.0 0 0 1 21.5,6.0" fill="none" stroke="#000" stroke-width="1.9800000000000002" stroke-linejoin="round" stroke-linecap="round"/><path d="M25.3,-6.0 A3.00,6.0 0 0 1 25.3,6.0" fill="none" stroke="#000" stroke-width="1.9800000000000002" stroke-linejoin="round" stroke-linecap="round"/><path d="M29.2,-6.0 A3.00,6.0 0 0 1 29.2,6.0" fill="none" stroke="#000" stroke-width="1.9800000000000002" stroke-linejoin="round" stroke-linecap="round"/><path d="M10,-9.6 L0,-9.6 A4.8,9.6 0 0 0 0,9.6 L10,9.6 A4.8,9.6 0 0 0 10,-9.6" fill="#fff" stroke="#000" stroke-width="2.2" stroke-linejoin="round" stroke-linecap="round"/><path d="M3.5,-8.6 A4.32,8.6 0 0 0 3.5,8.6" fill="none" stroke="#000" stroke-width="1.9800000000000002" stroke-linejoin="round" stroke-linecap="round"/></g>
<ellipse cx="685.0" cy="638.2" rx="10.5" ry="13.5" fill="#fff" stroke="#000" stroke-width="2.4" transform="rotate(30 685.0 638.2)"/>
<ellipse cx="686.2" cy="639.8" rx="7.5" ry="10.0" fill="none" stroke="#000" stroke-width="1.6" transform="rotate(30 686.2 639.8)"/>
<ellipse cx="686.0" cy="640.6" rx="3.2" ry="4.2" fill="none" stroke="#000" stroke-width="2.6" transform="rotate(30 686.0 640.6)"/>
<path d="M713.5,587.4 L785,630 M786,633 L790,636" fill="none" stroke="#000" stroke-width="1.5" stroke-linejoin="round" stroke-linecap="round" />
<path d="M688,642.1 L721.5,661.9 L770,631.7 L800,645" fill="none" stroke="#000" stroke-width="1.5" stroke-linejoin="round" stroke-linecap="round" />
<path d="M668.2,628.8 L673.9,632.6" fill="none" stroke="#000" stroke-width="1.5" stroke-linejoin="round" stroke-linecap="round" />
<path d="M737.7,898.5 A8.6,3.3 0 0 1 754.9,898.5 L754.9,907.5 A8.6,3.3 0 0 1 737.7,907.5 Z" fill="#fff" stroke="#000" stroke-width="2.2" stroke-linejoin="round" stroke-linecap="round" />
<path d="M737.7,898.5 A8.6,3.3 0 0 0 754.9,898.5" fill="none" stroke="#000" stroke-width="1.7600000000000002" stroke-linejoin="round" stroke-linecap="round" />
<path d="M735.7,907.5 A10.6,4.0 0 0 1 756.9,907.5 L756.9,917.5 A10.6,4.0 0 0 1 735.7,917.5 Z" fill="#fff" stroke="#000" stroke-width="2.2" stroke-linejoin="round" stroke-linecap="round" />
<path d="M735.7,907.5 A10.6,4.0 0 0 0 756.9,907.5" fill="none" stroke="#000" stroke-width="1.7600000000000002" stroke-linejoin="round" stroke-linecap="round" />
<path d="M737.9,917.5 A8.4,3.2 0 0 1 754.7,917.5 L754.7,944.5 A8.4,3.2 0 0 1 737.9,944.5 Z" fill="#fff" stroke="#000" stroke-width="2.2" stroke-linejoin="round" stroke-linecap="round" />
<path d="M737.9,917.5 A8.4,3.2 0 0 0 754.7,917.5" fill="none" stroke="#000" stroke-width="1.7600000000000002" stroke-linejoin="round" stroke-linecap="round" />
<path d="M735.4,944.5 A10.9,4.1 0 0 1 757.2,944.5 L757.2,953.5 A10.9,4.1 0 0 1 735.4,953.5 Z" fill="#fff" stroke="#000" stroke-width="2.2" stroke-linejoin="round" stroke-linecap="round" />
<path d="M735.4,944.5 A10.9,4.1 0 0 0 757.2,944.5" fill="none" stroke="#000" stroke-width="1.7600000000000002" stroke-linejoin="round" stroke-linecap="round" />
<path d="M738.3,953.5 A8.0,3.0 0 0 1 754.3,953.5 L754.3,959.5 A8.0,3.0 0 0 1 738.3,959.5 Z" fill="#fff" stroke="#000" stroke-width="2.2" stroke-linejoin="round" stroke-linecap="round" />
<path d="M738.3,953.5 A8.0,3.0 0 0 0 754.3,953.5" fill="none" stroke="#000" stroke-width="1.7600000000000002" stroke-linejoin="round" stroke-linecap="round" />
<path d="M738.3,955.5 A8.0,3.0 0 0 0 754.3,955.5" fill="none" stroke="#000" stroke-width="1.7600000000000002" stroke-linejoin="round" stroke-linecap="round" />
<path d="M738.3,957.5 A8.0,3.0 0 0 0 754.3,957.5" fill="none" stroke="#000" stroke-width="1.7600000000000002" stroke-linejoin="round" stroke-linecap="round" />
<path d="M739.5,918 L739.5,944 M753.1,918 L753.1,944" fill="none" stroke="#000" stroke-width="3.2" stroke-linejoin="round" stroke-linecap="round" />
<rect x="741.6" y="920.0" width="1.8" height="1.8" fill="#000"/>
<rect x="745.4" y="922.0" width="1.8" height="1.8" fill="#000"/>
<rect x="749.2" y="920.0" width="1.8" height="1.8" fill="#000"/>
<rect x="741.6" y="924.0" width="1.8" height="1.8" fill="#000"/>
<rect x="745.4" y="926.0" width="1.8" height="1.8" fill="#000"/>
<rect x="749.2" y="924.0" width="1.8" height="1.8" fill="#000"/>
<rect x="741.6" y="928.0" width="1.8" height="1.8" fill="#000"/>
<rect x="745.4" y="930.0" width="1.8" height="1.8" fill="#000"/>
<rect x="749.2" y="928.0" width="1.8" height="1.8" fill="#000"/>
<rect x="741.6" y="932.0" width="1.8" height="1.8" fill="#000"/>
<rect x="745.4" y="934.0" width="1.8" height="1.8" fill="#000"/>
<rect x="749.2" y="932.0" width="1.8" height="1.8" fill="#000"/>
<rect x="741.6" y="936.0" width="1.8" height="1.8" fill="#000"/>
<rect x="745.4" y="938.0" width="1.8" height="1.8" fill="#000"/>
<rect x="749.2" y="936.0" width="1.8" height="1.8" fill="#000"/>
<rect x="741.6" y="940.0" width="1.8" height="1.8" fill="#000"/>
<rect x="745.4" y="942.0" width="1.8" height="1.8" fill="#000"/>
<rect x="749.2" y="940.0" width="1.8" height="1.8" fill="#000"/>
<ellipse cx="746.3" cy="899.5" rx="3.5" ry="1.8" fill="none" stroke="#000" stroke-width="2.0"/>
<path d="M735.6,973.5 A10.6,4.0 0 0 1 756.8,973.5 L756.8,981.5 A10.6,4.0 0 0 1 735.6,981.5 Z" fill="#fff" stroke="#000" stroke-width="2.2" stroke-linejoin="round" stroke-linecap="round" />
<path d="M735.6,973.5 A10.6,4.0 0 0 0 756.8,973.5" fill="none" stroke="#000" stroke-width="1.7600000000000002" stroke-linejoin="round" stroke-linecap="round" />
<path d="M736.4,981.5 A9.8,3.7 0 0 1 756.0,981.5 L756.0,993.5 A9.8,3.7 0 0 1 736.4,993.5 Z" fill="#000" stroke="#000" stroke-width="2.2" stroke-linejoin="round" stroke-linecap="round" />
<path d="M736.4,981.5 A9.8,3.7 0 0 0 756.0,981.5" fill="none" stroke="#000" stroke-width="1.7600000000000002" stroke-linejoin="round" stroke-linecap="round" />
<path d="M739.3,984.5 A6.9,2.6 0 0 0 753.1,984.5" fill="none" stroke="#fff" stroke-width="1.2"/>
<path d="M739.3,987.5 A6.9,2.6 0 0 0 753.1,987.5" fill="none" stroke="#fff" stroke-width="1.2"/>
<path d="M739.3,990.5 A6.9,2.6 0 0 0 753.1,990.5" fill="none" stroke="#fff" stroke-width="1.2"/>
<ellipse cx="746.2" cy="975.0" rx="3.8" ry="2.4" fill="none" stroke="#000" stroke-width="2.0"/>
<path d="M836.1,811.3 L836.1,827.5 L745.9,878.2 L745.9,896" fill="none" stroke="#000" stroke-width="1.5" stroke-linejoin="round" stroke-linecap="round" />
<path d="M844.2,838.5 A6.6,2.5 0 0 1 857.4,838.5 L857.4,854.5 A6.6,2.5 0 0 1 844.2,854.5 Z" fill="#fff" stroke="#000" stroke-width="2.2" stroke-linejoin="round" stroke-linecap="round" />
<path d="M844.2,838.5 A6.6,2.5 0 0 0 857.4,838.5" fill="none" stroke="#000" stroke-width="1.7600000000000002" stroke-linejoin="round" stroke-linecap="round" />
<path d="M842.2,854.5 A8.6,3.3 0 0 1 859.4,854.5 L859.4,876.5 A8.6,3.3 0 0 1 842.2,876.5 Z" fill="#000" stroke="#000" stroke-width="2.2" stroke-linejoin="round" stroke-linecap="round" />
<path d="M842.2,854.5 A8.6,3.3 0 0 0 859.4,854.5" fill="none" stroke="#000" stroke-width="1.7600000000000002" stroke-linejoin="round" stroke-linecap="round" />
<path d="M844.8,858.2 A6.0,2.3 0 0 0 856.8,858.2" fill="none" stroke="#fff" stroke-width="1.2"/>
<path d="M844.8,861.8 A6.0,2.3 0 0 0 856.8,861.8" fill="none" stroke="#fff" stroke-width="1.2"/>
<path d="M844.8,865.5 A6.0,2.3 0 0 0 856.8,865.5" fill="none" stroke="#fff" stroke-width="1.2"/>
<path d="M844.8,869.2 A6.0,2.3 0 0 0 856.8,869.2" fill="none" stroke="#fff" stroke-width="1.2"/>
<path d="M844.8,872.8 A6.0,2.3 0 0 0 856.8,872.8" fill="none" stroke="#fff" stroke-width="1.2"/>
<path d="M850.8,803.2 L850.8,833.6 M850.8,881.3 L850.8,884.8" fill="none" stroke="#000" stroke-width="1.6" stroke-linejoin="round" stroke-linecap="round" />
<path d="M841.3,890.5 A8.2,3.1 0 0 1 857.7,890.5 L857.7,900.5 A8.2,3.1 0 0 1 841.3,900.5 Z" fill="#fff" stroke="#000" stroke-width="2.2" stroke-linejoin="round" stroke-linecap="round" />
<path d="M841.3,890.5 A8.2,3.1 0 0 0 857.7,890.5" fill="none" stroke="#000" stroke-width="1.7600000000000002" stroke-linejoin="round" stroke-linecap="round" />
<path d="M838.1,900.5 A11.4,4.3 0 0 1 860.9,900.5 L860.9,910.5 A11.4,4.3 0 0 1 838.1,910.5 Z" fill="#fff" stroke="#000" stroke-width="2.2" stroke-linejoin="round" stroke-linecap="round" />
<path d="M838.1,900.5 A11.4,4.3 0 0 0 860.9,900.5" fill="none" stroke="#000" stroke-width="1.7600000000000002" stroke-linejoin="round" stroke-linecap="round" />
<ellipse cx="999.0" cy="784.0" rx="6.8" ry="4.0" fill="none" stroke="#000" stroke-width="2.2"/>
<path d="M895,783.3 L895,821.7 L998.3,766.7 L998.3,777" fill="none" stroke="#000" stroke-width="1.6" stroke-linejoin="round" stroke-linecap="round" stroke-dasharray="48 5 2 5 200"/>
<path d="M1000.6,793.5 L1000.6,802.4 M999,839.1 L999,854.3" fill="none" stroke="#000" stroke-width="1.6" stroke-linejoin="round" stroke-linecap="round" />
<path d="M990.4,810.5 A9.5,3.6 0 0 1 1009.4,810.5 L1009.4,831.5 A9.5,3.6 0 0 1 990.4,831.5 Z" fill="#fff" stroke="#000" stroke-width="2.2" stroke-linejoin="round" stroke-linecap="round" />
<path d="M990.4,810.5 A9.5,3.6 0 0 0 1009.4,810.5" fill="none" stroke="#000" stroke-width="1.7600000000000002" stroke-linejoin="round" stroke-linecap="round" />
<path d="M990.5,820.5 Q999.9,825 1009.3,820.5" fill="none" stroke="#000" stroke-width="1.8" stroke-linejoin="round" stroke-linecap="round" />
<ellipse cx="999.9" cy="810.5" rx="3.0" ry="1.5" fill="none" stroke="#000" stroke-width="2.4"/>
<path d="M992.2,857.5 A5.8,2.2 0 0 1 1003.8,857.5 L1003.8,868.5 A5.8,2.2 0 0 1 992.2,868.5 Z" fill="#fff" stroke="#000" stroke-width="2.2" stroke-linejoin="round" stroke-linecap="round" />
<path d="M992.2,857.5 A5.8,2.2 0 0 0 1003.8,857.5" fill="none" stroke="#000" stroke-width="1.7600000000000002" stroke-linejoin="round" stroke-linecap="round" />
<path d="M992.2,861.2 A5.8,2.2 0 0 0 1003.8,861.2" fill="none" stroke="#000" stroke-width="1.7600000000000002" stroke-linejoin="round" stroke-linecap="round" />
<path d="M992.2,864.8 A5.8,2.2 0 0 0 1003.8,864.8" fill="none" stroke="#000" stroke-width="1.7600000000000002" stroke-linejoin="round" stroke-linecap="round" />
<path d="M984.5,879.0 A5.3,2.0 0 0 1 995.1,879.0 L995.1,891.0 A5.3,2.0 0 0 1 984.5,891.0 Z" fill="#fff" stroke="#000" stroke-width="2.2" stroke-linejoin="round" stroke-linecap="round" />
<path d="M984.5,879.0 A5.3,2.0 0 0 0 995.1,879.0" fill="none" stroke="#000" stroke-width="1.7600000000000002" stroke-linejoin="round" stroke-linecap="round" />
<path d="M984.5,883.0 A5.3,2.0 0 0 0 995.1,883.0" fill="none" stroke="#000" stroke-width="1.7600000000000002" stroke-linejoin="round" stroke-linecap="round" />
<path d="M984.5,887.0 A5.3,2.0 0 0 0 995.1,887.0" fill="none" stroke="#000" stroke-width="1.7600000000000002" stroke-linejoin="round" stroke-linecap="round" />
<path d="M980.3,891.0 A9.5,3.6 0 0 1 999.3,891.0 L999.3,902.0 A9.5,3.6 0 0 1 980.3,902.0 Z" fill="#fff" stroke="#000" stroke-width="2.2" stroke-linejoin="round" stroke-linecap="round" />
<path d="M980.3,891.0 A9.5,3.6 0 0 0 999.3,891.0" fill="none" stroke="#000" stroke-width="1.7600000000000002" stroke-linejoin="round" stroke-linecap="round" />
<path d="M980.3,894.7 A9.5,3.6 0 0 0 999.3,894.7" fill="none" stroke="#000" stroke-width="1.7600000000000002" stroke-linejoin="round" stroke-linecap="round" />
<path d="M980.3,898.3 A9.5,3.6 0 0 0 999.3,898.3" fill="none" stroke="#000" stroke-width="1.7600000000000002" stroke-linejoin="round" stroke-linecap="round" />
<path d="M1043.7,848 L1054.4,844.8 L1054.4,841 L1059.5,837.9 L1059.5,860 L1043.7,870.2 Z" fill="none" stroke="#000" stroke-width="2.0" stroke-linejoin="round" stroke-linecap="round" />
<path d="M794.7,970.6 A41.8,22.8 0 0 1 878.4,970.6 L878.4,994.9 A41.8,22.8 0 0 1 794.7,994.9 Z" fill="#fff" stroke="#000" stroke-width="2.4" stroke-linejoin="round" stroke-linecap="round" />
<path d="M824,959.5 A23,14.2 0 0 0 837,984.8 M831.5,957.3 A23,14.2 0 0 1 852,982" fill="none" stroke="#000" stroke-width="2.0" stroke-linejoin="round" stroke-linecap="round" />
<path d="M820.5,981 Q834,976 850,982" fill="none" stroke="#000" stroke-width="1.8" stroke-linejoin="round" stroke-linecap="round" />
<path d="M798.3,980.7 L812.4,991.3 M821,993.4 Q833,997 845.9,996.4" fill="none" stroke="#000" stroke-width="1.8" stroke-linejoin="round" stroke-linecap="round" />
<path d="M851,984 L869,981.5 L879,987 L876,993 L859,1001 L849,996 Z" fill="#fff" stroke="#000" stroke-width="2.0" stroke-linejoin="round" stroke-linecap="round" />
<ellipse cx="878.5" cy="985.0" rx="4.5" ry="7.0" fill="#fff" stroke="#000" stroke-width="2.2" transform="rotate(15 878.5 985.0)"/>
<ellipse cx="852.0" cy="994.0" rx="3.2" ry="3.6" fill="#000" stroke="#000" stroke-width="2.4"/>
<g transform="translate(898.1,970) rotate(-31)"><path d="M0,-3.6 L30,-3.6 A3.6,3.6 0 0 1 30,3.6 L0,3.6 A2,3.6 0 0 1 0,-3.6 Z" fill="#fff" stroke="#000" stroke-width="2.1"/><path d="M0,-3.6 A2,3.6 0 0 1 0,3.6" fill="none" stroke="#000" stroke-width="1.6"/></g>
<path d="M888.5,976.6 L895.6,972.1" fill="none" stroke="#000" stroke-width="1.5" stroke-linejoin="round" stroke-linecap="round" />
<ellipse cx="837.0" cy="1057.0" rx="52.6" ry="31.6" fill="none" stroke="#000" stroke-width="4.6" transform="rotate(1.5 837.0 1057.0)"/>
<path d="M781.2,1172.4 L781.5,1201 L792,1207 L795.8,1204.7 M785,1175 L785.5,1200 M789,1176 L789.5,1203" fill="none" stroke="#000" stroke-width="1.8" stroke-linejoin="round" stroke-linecap="round" />
<path d="M792.6,1191.4 L798.3,1202.8 Q801,1218 831.3,1226.2 Q852,1227 860.4,1220.5 Q878,1212 883.2,1200.3 L895,1190 L897,1176" fill="none" stroke="#000" stroke-width="2.1" stroke-linejoin="round" stroke-linecap="round" />
<path d="M892,1180 L901,1175 L900.5,1187 L892,1192" fill="none" stroke="#000" stroke-width="1.8" stroke-linejoin="round" stroke-linecap="round" />
<path d="M828.7,1103.3 L858.5,1103.9 L922.5,1149.6 L925.7,1158.4 L846.5,1201.5 L836.3,1200.3 L757.1,1157.2 L755.8,1145.8 Z" fill="#fff" stroke="#000" stroke-width="2.4" stroke-linejoin="round" stroke-linecap="round" />
<path d="M757.5,1155 L836.5,1198 L846,1198.5 L925,1155" fill="none" stroke="#000" stroke-width="1.6" stroke-linejoin="round" stroke-linecap="round" />
<ellipse cx="839.5" cy="1149.6" rx="54.5" ry="29.8" fill="none" stroke="#000" stroke-width="2.0"/>
<ellipse cx="839.5" cy="1149.0" rx="52.4" ry="27.8" fill="none" stroke="#000" stroke-width="1.6"/>
<ellipse cx="839.7" cy="1148.0" rx="47.8" ry="24.4" fill="none" stroke="#000" stroke-width="2.0"/>
<path d="M790,1163 Q810,1178 840,1176 Q868,1175 885,1162" fill="none" stroke="#000" stroke-width="2.6" stroke-linejoin="round" stroke-linecap="round" />
<path d="M800.8,1155.3 Q810,1148 824.3,1145.1 M845.8,1144.5 Q865,1146 875.6,1154.6" fill="none" stroke="#000" stroke-width="1.6" stroke-linejoin="round" stroke-linecap="round" />
<ellipse cx="767.2" cy="1149.6" rx="4.6" ry="3.0" fill="none" stroke="#000" stroke-width="1.8"/>
<ellipse cx="849.6" cy="1111.5" rx="4.6" ry="3.0" fill="none" stroke="#000" stroke-width="1.8"/>
<ellipse cx="906.7" cy="1143.9" rx="4.6" ry="3.0" fill="none" stroke="#000" stroke-width="1.8"/>
<ellipse cx="840.1" cy="1189.5" rx="4.6" ry="3.0" fill="none" stroke="#000" stroke-width="1.8"/>
<path d="M905,1174.3 L905,1210.4" fill="none" stroke="#000" stroke-width="1.6" stroke-linejoin="round" stroke-linecap="round" />
<path d="M898.8,1216.5 A6.6,2.5 0 0 1 912.0,1216.5 L912.0,1235.5 A6.6,2.5 0 0 1 898.8,1235.5 Z" fill="#fff" stroke="#000" stroke-width="2.2" stroke-linejoin="round" stroke-linecap="round" />
<path d="M898.8,1216.5 A6.6,2.5 0 0 0 912.0,1216.5" fill="none" stroke="#000" stroke-width="1.7600000000000002" stroke-linejoin="round" stroke-linecap="round" />
<path d="M898.8,1220.3 A6.6,2.5 0 0 0 912.0,1220.3" fill="none" stroke="#000" stroke-width="1.7600000000000002" stroke-linejoin="round" stroke-linecap="round" />
<path d="M898.8,1224.1 A6.6,2.5 0 0 0 912.0,1224.1" fill="none" stroke="#000" stroke-width="1.7600000000000002" stroke-linejoin="round" stroke-linecap="round" />
<path d="M898.8,1227.9 A6.6,2.5 0 0 0 912.0,1227.9" fill="none" stroke="#000" stroke-width="1.7600000000000002" stroke-linejoin="round" stroke-linecap="round" />
<path d="M898.8,1231.7 A6.6,2.5 0 0 0 912.0,1231.7" fill="none" stroke="#000" stroke-width="1.7600000000000002" stroke-linejoin="round" stroke-linecap="round" />
<path d="M894.4,1235.5 A11.0,4.2 0 0 1 916.4,1235.5 L916.4,1254.5 A11.0,4.2 0 0 1 894.4,1254.5 Z" fill="#fff" stroke="#000" stroke-width="2.2" stroke-linejoin="round" stroke-linecap="round" />
<path d="M894.4,1235.5 A11.0,4.2 0 0 0 916.4,1235.5" fill="none" stroke="#000" stroke-width="1.7600000000000002" stroke-linejoin="round" stroke-linecap="round" />
<path d="M894.4,1239.3 A11.0,4.2 0 0 0 916.4,1239.3" fill="none" stroke="#000" stroke-width="1.7600000000000002" stroke-linejoin="round" stroke-linecap="round" />
<path d="M894.4,1243.1 A11.0,4.2 0 0 0 916.4,1243.1" fill="none" stroke="#000" stroke-width="1.7600000000000002" stroke-linejoin="round" stroke-linecap="round" />
<path d="M894.4,1246.9 A11.0,4.2 0 0 0 916.4,1246.9" fill="none" stroke="#000" stroke-width="1.7600000000000002" stroke-linejoin="round" stroke-linecap="round" />
<path d="M894.4,1250.7 A11.0,4.2 0 0 0 916.4,1250.7" fill="none" stroke="#000" stroke-width="1.7600000000000002" stroke-linejoin="round" stroke-linecap="round" />
<g transform="translate(630,1095) scale(0.063371)"><path d="M560,330 L870,490 A60,100 30 0 1 760,655 L470,530 Z" fill="#fff" stroke="#000" stroke-width="30" stroke-linejoin="round"/><ellipse cx="815" cy="572" rx="55" ry="95" transform="rotate(30 815 572)" fill="#fff" stroke="#000" stroke-width="30"/><path d="M620,360 A55,95 30 0 0 510,550" fill="none" stroke="#000" stroke-width="27.0"/><path d="M680,395 A55,95 30 0 0 570,585" fill="none" stroke="#000" stroke-width="27.0"/><path d="M740,430 A55,95 30 0 0 630,620" fill="none" stroke="#000" stroke-width="27.0"/><path d="M200,380 L330,110 L470,100 L620,200 L630,300 L470,560 L330,560 L200,430 Z" fill="#fff" stroke="#000" stroke-width="33.0" stroke-linejoin="round"/><path d="M330,110 L235,375 L330,560 M455,125 L360,385 L450,550" fill="none" stroke="#000" stroke-width="25.5"/><path d="M590,250 Q420,300 460,540" fill="none" stroke="#000" stroke-width="25.5"/></g>
<ellipse cx="700.3" cy="1141.3" rx="4.8" ry="7.4" fill="none" stroke="#000" stroke-width="2.2" transform="rotate(28 700.3 1141.3)"/>
<path d="M796.6,1314.5 A6.1,2.3 0 0 1 808.8,1314.5 L808.8,1338.5 A6.1,2.3 0 0 1 796.6,1338.5 Z" fill="#fff" stroke="#000" stroke-width="2.2" stroke-linejoin="round" stroke-linecap="round" />
<path d="M796.6,1314.5 A6.1,2.3 0 0 0 808.8,1314.5" fill="none" stroke="#000" stroke-width="1.7600000000000002" stroke-linejoin="round" stroke-linecap="round" />
<path d="M796.6,1318.5 A6.1,2.3 0 0 0 808.8,1318.5" fill="none" stroke="#000" stroke-width="1.7600000000000002" stroke-linejoin="round" stroke-linecap="round" />
<path d="M796.6,1322.5 A6.1,2.3 0 0 0 808.8,1322.5" fill="none" stroke="#000" stroke-width="1.7600000000000002" stroke-linejoin="round" stroke-linecap="round" />
<path d="M796.6,1326.5 A6.1,2.3 0 0 0 808.8,1326.5" fill="none" stroke="#000" stroke-width="1.7600000000000002" stroke-linejoin="round" stroke-linecap="round" />
<path d="M796.6,1330.5 A6.1,2.3 0 0 0 808.8,1330.5" fill="none" stroke="#000" stroke-width="1.7600000000000002" stroke-linejoin="round" stroke-linecap="round" />
<path d="M796.6,1334.5 A6.1,2.3 0 0 0 808.8,1334.5" fill="none" stroke="#000" stroke-width="1.7600000000000002" stroke-linejoin="round" stroke-linecap="round" />
<path d="M792.7,1299.5 A10.0,3.8 0 0 1 812.7,1299.5 L812.7,1313.5 A10.0,3.8 0 0 1 792.7,1313.5 Z" fill="#fff" stroke="#000" stroke-width="2.3" stroke-linejoin="round" stroke-linecap="round" />
<path d="M792.7,1299.5 A10.0,3.8 0 0 0 812.7,1299.5" fill="none" stroke="#000" stroke-width="1.8399999999999999" stroke-linejoin="round" stroke-linecap="round" />
<path d="M797,1297.5 L808,1303" fill="none" stroke="#000" stroke-width="1.8" stroke-linejoin="round" stroke-linecap="round" />
<path d="M794.3,1352.5 A7.0,2.7 0 0 1 808.3,1352.5 L808.3,1379.5 A7.0,2.7 0 0 1 794.3,1379.5 Z" fill="#fff" stroke="#000" stroke-width="2.3" stroke-linejoin="round" stroke-linecap="round" />
<path d="M794.3,1352.5 A7.0,2.7 0 0 0 808.3,1352.5" fill="none" stroke="#000" stroke-width="1.8399999999999999" stroke-linejoin="round" stroke-linecap="round" />
<path d="M794.3,1356.4 A7.0,2.7 0 0 0 808.3,1356.4" fill="none" stroke="#000" stroke-width="1.8399999999999999" stroke-linejoin="round" stroke-linecap="round" />
<path d="M794.3,1360.2 A7.0,2.7 0 0 0 808.3,1360.2" fill="none" stroke="#000" stroke-width="1.8399999999999999" stroke-linejoin="round" stroke-linecap="round" />
<path d="M794.3,1364.1 A7.0,2.7 0 0 0 808.3,1364.1" fill="none" stroke="#000" stroke-width="1.8399999999999999" stroke-linejoin="round" stroke-linecap="round" />
<path d="M794.3,1367.9 A7.0,2.7 0 0 0 808.3,1367.9" fill="none" stroke="#000" stroke-width="1.8399999999999999" stroke-linejoin="round" stroke-linecap="round" />
<path d="M794.3,1371.8 A7.0,2.7 0 0 0 808.3,1371.8" fill="none" stroke="#000" stroke-width="1.8399999999999999" stroke-linejoin="round" stroke-linecap="round" />
<path d="M794.3,1375.6 A7.0,2.7 0 0 0 808.3,1375.6" fill="none" stroke="#000" stroke-width="1.8399999999999999" stroke-linejoin="round" stroke-linecap="round" />
<g transform="translate(748,1366) rotate(35)"><path d="M0,-8.5 L19,-8.5 A4.5,8.5 0 0 1 19,8.5 L0,8.5 A4.5,8.5 0 0 1 0,-8.5 Z" fill="#fff" stroke="#000" stroke-width="2.2"/><ellipse cx="19" cy="0" rx="4.5" ry="8.5" fill="none" stroke="#000" stroke-width="2"/><ellipse cx="19" cy="0" rx="1.8" ry="3.2" fill="none" stroke="#000" stroke-width="1.8"/></g>
<g transform="translate(697.0,1724.0) rotate(31)"><path d="M8,-6.4 L34,-6.4 A3.2,6.4 0 0 1 34,6.4 L8,6.4" fill="#fff" stroke="#000" stroke-width="2.1" stroke-linejoin="round" stroke-linecap="round"/><ellipse cx="34" cy="0" rx="3.20" ry="6.4" fill="#fff" stroke="#000" stroke-width="2.1"/><path d="M12.3,-6.4 A3.20,6.4 0 0 1 12.3,6.4" fill="none" stroke="#000" stroke-width="1.8900000000000001" stroke-linejoin="round" stroke-linecap="round"/><path d="M16.7,-6.4 A3.20,6.4 0 0 1 16.7,6.4" fill="none" stroke="#000" stroke-width="1.8900000000000001" stroke-linejoin="round" stroke-linecap="round"/><path d="M21.0,-6.4 A3.20,6.4 0 0 1 21.0,6.4" fill="none" stroke="#000" stroke-width="1.8900000000000001" stroke-linejoin="round" stroke-linecap="round"/><path d="M25.3,-6.4 A3.20,6.4 0 0 1 25.3,6.4" fill="none" stroke="#000" stroke-width="1.8900000000000001" stroke-linejoin="round" stroke-linecap="round"/><path d="M29.7,-6.4 A3.20,6.4 0 0 1 29.7,6.4" fill="none" stroke="#000" stroke-width="1.8900000000000001" stroke-linejoin="round" stroke-linecap="round"/><path d="M8,-9.5 L0,-9.5 A4.75,9.5 0 0 0 0,9.5 L8,9.5 A4.75,9.5 0 0 0 8,-9.5" fill="#fff" stroke="#000" stroke-width="2.1" stroke-linejoin="round" stroke-linecap="round"/><path d="M2.8,-8.6 A4.28,8.6 0 0 0 2.8,8.6" fill="none" stroke="#000" stroke-width="1.8900000000000001" stroke-linejoin="round" stroke-linecap="round"/></g>
<ellipse cx="753.3" cy="1752.5" rx="7.5" ry="11.0" fill="#fff" stroke="#000" stroke-width="2.4" transform="rotate(30 753.3 1752.5)"/>
<ellipse cx="754.5" cy="1753.5" rx="3.0" ry="4.4" fill="none" stroke="#000" stroke-width="2.4" transform="rotate(30 754.5 1753.5)"/>
<path d="M736.5,1743 L741,1746.5" fill="none" stroke="#000" stroke-width="1.5" stroke-linejoin="round" stroke-linecap="round" />
<g id="boxes">
<path d="M590.0,281.1 L615.7,281.3 M630.7,281.4 L656.4,281.5 M671.4,281.6 L697.1,281.7 M712.1,281.8 L737.9,282.0 M752.9,282.0 L778.6,282.2 M793.6,282.3 L819.3,282.4 M834.3,282.5 L860.0,282.6 M875.0,282.7 L900.7,282.9 M915.7,283.0 L941.4,283.1 M956.4,283.2 L982.1,283.3 M997.1,283.4 L1022.9,283.6 M1037.9,283.6 L1063.6,283.8 M1078.6,283.9 L1104.3,284.0 M1119.3,284.1 L1145.0,284.3" fill="none" stroke="#000" stroke-width="2.3"/>
<path d="M1189.0,318.5 L1189.0,345.4 M1189.0,360.4 L1189.0,387.3 M1189.0,402.3 L1189.0,429.2 M1189.0,444.2 L1189.0,471.0 M1189.0,486.0 L1189.0,512.9 M1189.0,527.9 L1189.0,554.8 M1189.0,569.8 L1189.0,596.7 M1189.0,611.7 L1189.0,638.6 M1189.0,653.6 L1189.0,680.5 M1189.0,695.5 L1189.0,722.4 M1189.0,737.4 L1189.0,764.2 M1189.0,779.2 L1189.0,806.1 M1189.0,821.1 L1189.0,848.0 M1189.0,863.0 L1189.0,889.9 M1189.0,904.9 L1189.0,931.8 M1189.0,946.8 L1189.0,973.7 M1189.0,988.7 L1189.0,1015.6 M1189.0,1030.6 L1189.0,1057.5 M1189.0,1072.5 L1189.0,1099.3 M1189.0,1114.3 L1189.0,1141.2 M1189.0,1156.2 L1189.0,1183.1 M1189.0,1198.1 L1189.0,1225.0" fill="none" stroke="#000" stroke-width="2.3"/>
<path d="M1149.3,1271.9 L1121.7,1271.9 M1106.7,1271.9 L1079.0,1271.8 M1064.0,1271.8 L1036.4,1271.8 M1021.4,1271.7 L993.7,1271.7 M978.7,1271.7 L951.1,1271.6 M936.1,1271.6 L908.5,1271.5 M893.5,1271.5 L865.8,1271.5 M850.8,1271.5 L823.2,1271.4 M808.2,1271.4 L780.6,1271.3 M765.6,1271.3 L737.9,1271.3 M722.9,1271.3 L695.3,1271.2 M680.3,1271.2 L652.6,1271.1 M637.6,1271.1 L610.0,1271.1" fill="none" stroke="#000" stroke-width="2.3"/>
<path d="M567.5,1217.0 L567.5,1190.7 M567.5,1175.7 L567.4,1149.5 M567.4,1134.5 L567.4,1108.2 M567.4,1093.2 L567.4,1066.9 M567.4,1051.9 L567.4,1025.6 M567.4,1010.6 L567.4,984.4 M567.3,969.4 L567.3,943.1 M567.3,928.1 L567.3,901.8 M567.3,886.8 L567.3,860.5 M567.3,845.5 L567.3,819.3 M567.3,804.3 L567.3,778.0 M567.2,763.0 L567.2,736.7 M567.2,721.7 L567.2,695.5 M567.2,680.5 L567.2,654.2 M567.2,639.2 L567.2,612.9 M567.2,597.9 L567.1,571.6 M567.1,556.6 L567.1,530.4 M567.1,515.4 L567.1,489.1 M567.1,474.1 L567.1,447.8 M567.1,432.8 L567.1,406.5 M567.1,391.5 L567.0,365.3 M567.0,350.3 L567.0,324.0" fill="none" stroke="#000" stroke-width="2.3"/>
<path d="M575.0,281.0 L567.0,281.0 L567.0,309.0" fill="none" stroke="#000" stroke-width="2.4" stroke-linejoin="miter"/>
<path d="M1160.0,284.3 L1189.0,284.5 L1189.0,303.5" fill="none" stroke="#000" stroke-width="2.4" stroke-linejoin="miter"/>
<path d="M1164.3,1272.0 L1189.0,1272.0 L1189.0,1240.0" fill="none" stroke="#000" stroke-width="2.4" stroke-linejoin="miter"/>
<path d="M595.0,1271.0 L567.5,1271.0 L567.5,1232.0" fill="none" stroke="#000" stroke-width="2.4" stroke-linejoin="miter"/>
<path d="M608.0,1284.0 L633.6,1284.0 M648.6,1284.0 L674.1,1284.0 M689.1,1284.0 L714.7,1284.0 M729.7,1284.0 L755.3,1284.0 M770.3,1284.0 L795.9,1284.0 M810.9,1284.0 L836.4,1284.0 M851.4,1284.0 L877.0,1284.0 M892.0,1284.0 L917.6,1284.0 M932.6,1284.0 L958.1,1284.0 M973.1,1284.0 L998.7,1284.0 M1013.7,1284.0 L1039.3,1284.0 M1054.3,1284.0 L1079.9,1284.0 M1094.9,1284.0 L1120.4,1284.0 M1135.4,1284.0 L1161.0,1284.0" fill="none" stroke="#000" stroke-width="2.3"/>
<path d="M1187.9,1329.0 L1187.8,1353.4 M1187.8,1368.4 L1187.7,1392.9 M1187.6,1407.9 L1187.6,1432.3 M1187.5,1447.3 L1187.5,1471.7 M1187.4,1486.7 L1187.3,1511.1 M1187.3,1526.1 L1187.2,1550.6 M1187.2,1565.6 L1187.1,1590.0" fill="none" stroke="#000" stroke-width="2.3"/>
<path d="M1158.0,1632.9 L1132.5,1632.7 M1117.5,1632.7 L1092.0,1632.5 M1077.0,1632.5 L1051.5,1632.3 M1036.5,1632.3 L1011.0,1632.1 M996.0,1632.1 L970.5,1632.0 M955.5,1631.9 L930.0,1631.8 M915.0,1631.7 L889.5,1631.6 M874.5,1631.5 L849.0,1631.4 M834.0,1631.3 L808.5,1631.2 M793.5,1631.1 L768.0,1631.0 M753.0,1630.9 L727.5,1630.8 M712.5,1630.7 L687.0,1630.6 M672.0,1630.5 L646.5,1630.4 M631.5,1630.3 L606.0,1630.2" fill="none" stroke="#000" stroke-width="2.3"/>
<path d="M566.1,1602.0 L566.2,1574.9 M566.2,1559.9 L566.3,1532.7 M566.3,1517.7 L566.4,1490.6 M566.4,1475.6 L566.5,1448.4 M566.6,1433.4 L566.6,1406.3 M566.7,1391.3 L566.8,1364.1 M566.8,1349.1 L566.9,1322.0" fill="none" stroke="#000" stroke-width="2.3"/>
<path d="M593.0,1284.0 L567.0,1284.0 L566.9,1307.0" fill="none" stroke="#000" stroke-width="2.4" stroke-linejoin="miter"/>
<path d="M1176.0,1284.0 L1188.0,1284.0 L1187.9,1314.0" fill="none" stroke="#000" stroke-width="2.4" stroke-linejoin="miter"/>
<path d="M1173.0,1632.9 L1187.0,1633.0 L1187.1,1605.0" fill="none" stroke="#000" stroke-width="2.4" stroke-linejoin="miter"/>
<path d="M591.0,1630.1 L566.0,1630.0 L566.0,1617.0" fill="none" stroke="#000" stroke-width="2.4" stroke-linejoin="miter"/>
<path d="M608.0,1645.1 L636.2,1645.2 M651.2,1645.3 L679.3,1645.4 M694.3,1645.4 L722.5,1645.5 M737.5,1645.5 L765.6,1645.6 M780.6,1645.7 L808.8,1645.8 M823.8,1645.8 L851.9,1645.9 M866.9,1646.0 L895.1,1646.1 M910.1,1646.1 L938.2,1646.2 M953.2,1646.2 L981.4,1646.3 M996.4,1646.4 L1024.5,1646.5 M1039.5,1646.5 L1067.7,1646.6 M1082.7,1646.7 L1110.8,1646.8 M1125.8,1646.8 L1154.0,1646.9" fill="none" stroke="#000" stroke-width="2.3"/>
<path d="M1187.0,1692.0 L1187.0,1718.6 M1187.0,1733.6 L1187.0,1760.1 M1187.0,1775.1 L1187.0,1801.7 M1187.0,1816.7 L1187.0,1843.3 M1187.0,1858.3 L1187.0,1884.9 M1187.0,1899.9 L1187.0,1926.4 M1187.0,1941.4 L1187.0,1968.0" fill="none" stroke="#000" stroke-width="2.3"/>
<path d="M1146.0,2009.8 L1118.6,2009.7 M1103.6,2009.6 L1076.2,2009.5 M1061.2,2009.4 L1033.8,2009.3 M1018.8,2009.2 L991.5,2009.1 M976.5,2009.0 L949.1,2008.9 M934.1,2008.8 L906.7,2008.6 M891.7,2008.6 L864.3,2008.4 M849.3,2008.4 L821.9,2008.2 M806.9,2008.2 L779.5,2008.0 M764.5,2008.0 L737.2,2007.8 M722.2,2007.8 L694.8,2007.6 M679.8,2007.6 L652.4,2007.4 M637.4,2007.3 L610.0,2007.2" fill="none" stroke="#000" stroke-width="2.3"/>
<path d="M565.1,1983.0 L565.3,1953.6 M565.4,1938.6 L565.5,1909.1 M565.6,1894.1 L565.8,1864.7 M565.9,1849.7 L566.0,1820.3 M566.1,1805.3 L566.3,1775.9 M566.4,1760.9 L566.5,1731.4 M566.6,1716.4 L566.8,1687.0" fill="none" stroke="#000" stroke-width="2.3"/>
<path d="M593.0,1645.1 L567.0,1645.0 L566.9,1672.0" fill="none" stroke="#000" stroke-width="2.4" stroke-linejoin="miter"/>
<path d="M1169.0,1646.9 L1187.0,1647.0 L1187.0,1677.0" fill="none" stroke="#000" stroke-width="2.4" stroke-linejoin="miter"/>
<path d="M1161.0,2009.9 L1187.0,2010.0 L1187.0,1983.0" fill="none" stroke="#000" stroke-width="2.4" stroke-linejoin="miter"/>
<path d="M595.0,2007.1 L565.0,2007.0 L565.0,1998.0" fill="none" stroke="#000" stroke-width="2.4" stroke-linejoin="miter"/>
</g>
<g id="labels" fill="#000" stroke="#000" stroke-width="0.5" font-family="Liberation Sans, sans-serif">
<text transform="translate(698.7,323.3) scale(1.17,1)" font-size="33.5">2</text>
<text transform="translate(720.5,323.3) scale(1.17,1)" font-size="33.5">5</text>
<text transform="translate(697.0,402.3) scale(1.17,1)" font-size="33.5">2</text>
<text transform="translate(719.5,402.3) scale(1.17,1)" font-size="33.5">4</text>
<text transform="translate(708.0,443.3) scale(1.17,1)" font-size="33.5">2</text>
<text transform="translate(729.8,443.3) scale(1.17,1)" font-size="33.5">0</text>
<text transform="translate(945.7,436.7) scale(1.17,1)" font-size="33.5">2</text>
<text transform="translate(967.1,436.7) scale(1.17,1)" font-size="33.5">2</text>
<text transform="translate(629.7,467.3) scale(1.17,1)" font-size="33.5">2</text>
<text transform="translate(651.1,467.3) scale(1.17,1)" font-size="33.5">6</text>
<text transform="translate(711.3,489.0) scale(1.17,1)" font-size="33.5">2</text>
<rect x="739.2" y="465.5" width="3.4" height="23.5"/>
<text transform="translate(1002.0,497.3) scale(1.17,1)" font-size="33.5">2</text>
<text transform="translate(1023.4,497.3) scale(1.17,1)" font-size="33.5">2</text>
<text transform="translate(680.7,520.7) scale(1.17,1)" font-size="33.5">2</text>
<text transform="translate(702.1,520.7) scale(1.17,1)" font-size="33.5">7</text>
<text transform="translate(1003.0,557.3) scale(1.17,1)" font-size="33.5">2</text>
<text transform="translate(1024.9,557.3) scale(1.17,1)" font-size="33.5">3</text>
<text transform="translate(604.0,716.0) scale(1.17,1)" font-size="33.5">2</text>
<text transform="translate(625.7,716.0) scale(1.17,1)" font-size="33.5">8</text>
<text transform="translate(650.7,737.3) scale(1.17,1)" font-size="33.5">2</text>
<text transform="translate(672.3,737.3) scale(1.17,1)" font-size="33.5">9</text>
<text transform="translate(1086.9,756.8) scale(1.17,1)" font-size="33.5">8</text>
<text transform="translate(1088.1,792.9) scale(1.17,1)" font-size="33.5">9</text>
<rect x="1103.9" y="811.2" width="3.4" height="23.5"/>
<text transform="translate(1113.8,834.7) scale(1.17,1)" font-size="33.5">0</text>
<text transform="translate(919.7,863.3) scale(1.17,1)" font-size="33.5">6</text>
<text transform="translate(916.3,922.7) scale(1.17,1)" font-size="33.5">7</text>
<rect x="1081.0" y="879.5" width="3.4" height="23.5"/>
<rect x="1100.4" y="879.5" width="3.4" height="23.5"/>
<text transform="translate(642.4,930.0) scale(1.17,1)" font-size="33.5">4</text>
<rect x="1080.4" y="946.8" width="3.4" height="23.5"/>
<text transform="translate(1089.8,970.3) scale(1.17,1)" font-size="33.5">2</text>
<text transform="translate(646.7,1009.3) scale(1.17,1)" font-size="33.5">5</text>
<rect x="999.2" y="989.5" width="3.4" height="23.5"/>
<text transform="translate(1009.7,1013.0) scale(1.17,1)" font-size="33.5">4</text>
<rect x="956.0" y="1037.2" width="3.4" height="23.5"/>
<text transform="translate(965.9,1060.7) scale(1.17,1)" font-size="33.5">3</text>
<rect x="956.8" y="1100.2" width="3.4" height="23.5"/>
<text transform="translate(966.6,1123.7) scale(1.17,1)" font-size="33.5">5</text>
<rect x="1002.9" y="1119.2" width="3.4" height="23.5"/>
<text transform="translate(1012.3,1142.7) scale(1.17,1)" font-size="33.5">6</text>
<rect x="581.7" y="1169.2" width="3.4" height="23.5"/>
<text transform="translate(591.4,1192.7) scale(1.17,1)" font-size="33.5">8</text>
<rect x="635.0" y="1197.2" width="3.4" height="23.5"/>
<text transform="translate(644.6,1220.7) scale(1.17,1)" font-size="33.5">9</text>
<rect x="1004.8" y="1206.2" width="3.4" height="23.5"/>
<text transform="translate(1014.2,1229.7) scale(1.17,1)" font-size="33.5">7</text>
<text transform="translate(880.2,1320.7) scale(1.17,1)" font-size="33.5">3</text>
<text transform="translate(902.3,1320.7) scale(1.17,1)" font-size="33.5">0</text>
<text transform="translate(881.2,1370.7) scale(1.17,1)" font-size="33.5">3</text>
<rect x="909.3" y="1347.2" width="3.4" height="23.5"/>
<text transform="translate(650.2,1443.3) scale(1.17,1)" font-size="33.5">3</text>
<text transform="translate(671.9,1443.3) scale(1.17,1)" font-size="33.5">2</text>
<text transform="translate(773.0,1689.3) scale(1.17,1)" font-size="33.5">2</text>
<text transform="translate(794.7,1689.3) scale(1.17,1)" font-size="33.5">8</text>
<text transform="translate(822.0,1716.0) scale(1.17,1)" font-size="33.5">2</text>
<text transform="translate(843.6,1716.0) scale(1.17,1)" font-size="33.5">9</text>
<text transform="translate(449.0,1439.9) scale(1.17,1)" font-size="33.5">2</text>
<text transform="translate(449.5,1778.7) scale(1.17,1)" font-size="33.5">3</text>
<rect x="419.0" y="728.2" width="3.4" height="23.5"/>
</g>
<g id="leaders">
<path d="M744.0,319.3 L820.0,351.7" fill="none" stroke="#000" stroke-width="1.6" />
<path d="M741.7,395.0 L801.7,413.3" fill="none" stroke="#000" stroke-width="1.6" />
<path d="M753.3,440.0 L806.7,485.0" fill="none" stroke="#000" stroke-width="1.6" />
<path d="M945.0,440.0 L878.3,506.7" fill="none" stroke="#000" stroke-width="1.6" />
<path d="M651.0,476.7 L653.3,541.7" fill="none" stroke="#000" stroke-width="1.6" />
<path d="M751.7,486.7 L803.3,510.0" fill="none" stroke="#000" stroke-width="1.6" />
<path d="M1004.0,490.0 L931.7,525.0" fill="none" stroke="#000" stroke-width="1.6" />
<path d="M699.0,526.7 L695.7,569.3" fill="none" stroke="#000" stroke-width="1.6" />
<path d="M1003.3,551.7 L931.7,572.7" fill="none" stroke="#000" stroke-width="1.6" />
<path d="M650.0,630.0 L635.0,686.7" fill="none" stroke="#000" stroke-width="1.6" />
<path d="M683.3,646.7 L674.0,706.7" fill="none" stroke="#000" stroke-width="1.6" />
<path d="M853.3,863.3 L920.0,855.0" fill="none" stroke="#000" stroke-width="1.6" />
<path d="M860.0,905.0 L918.3,908.3" fill="none" stroke="#000" stroke-width="1.6" />
<path d="M1084.2,751.0 L1005.6,782.1" fill="none" stroke="#000" stroke-width="1.6" />
<path d="M1082.3,788.4 L1010.0,818.9" fill="none" stroke="#000" stroke-width="1.6" />
<path d="M1099.4,825.2 L1058.9,844.8" fill="none" stroke="#000" stroke-width="1.6" />
<path d="M1016.4,832.2 L1034.8,844.2" fill="none" stroke="#000" stroke-width="1.6" />
<path d="M1074.7,889.8 L1002.5,863.9" fill="none" stroke="#000" stroke-width="1.6" />
<path d="M1074.7,949.4 L998.0,902.5" fill="none" stroke="#000" stroke-width="1.6" />
<path d="M667.3,921.7 L736.7,930.0" fill="none" stroke="#000" stroke-width="1.6" />
<path d="M670.7,995.0 L736.7,981.7" fill="none" stroke="#000" stroke-width="1.6" />
<path d="M995.0,992.7 L916.7,965.0" fill="none" stroke="#000" stroke-width="1.6" />
<path d="M950.0,1039.3 L880.0,998.3" fill="none" stroke="#000" stroke-width="1.6" />
<path d="M951.7,1103.3 L890.0,1070.0" fill="none" stroke="#000" stroke-width="1.6" />
<path d="M998.3,1135.0 L925.0,1156.7" fill="none" stroke="#000" stroke-width="1.6" />
<path d="M611.7,1165.0 L651.7,1130.0" fill="none" stroke="#000" stroke-width="1.6" />
<path d="M666.0,1193.3 L695.3,1149.5" fill="none" stroke="#000" stroke-width="1.6" />
<path d="M710.0,1148.3 L776.7,1186.7" fill="none" stroke="#000" stroke-width="1.6" />
<path d="M908.3,1225.0 L1001.7,1218.3" fill="none" stroke="#000" stroke-width="1.6" />
<path d="M905.0,1173.3 L905.0,1210.0" fill="none" stroke="#000" stroke-width="1.6" />
<path d="M810.0,1320.0 L875.0,1309.3" fill="none" stroke="#000" stroke-width="1.6" />
<path d="M808.3,1360.0 L876.7,1357.3" fill="none" stroke="#000" stroke-width="1.6" />
<path d="M690.0,1419.3 L746.7,1376.7" fill="none" stroke="#000" stroke-width="1.6" />
<path d="M766.7,1376.7 L799.0,1396.5" fill="none" stroke="#000" stroke-width="1.6" />
<path d="M805.0,1400.0 L814.0,1406.6" fill="none" stroke="#000" stroke-width="1.6" />
<path d="M801.7,1340.0 L801.7,1348.3" fill="none" stroke="#000" stroke-width="1.6" />
<path d="M801.7,1383.3 L801.7,1426.7" fill="none" stroke="#000" stroke-width="1.6" />
<path d="M773.3,1693.3 L726.7,1731.7" fill="none" stroke="#000" stroke-width="1.6" />
<path d="M815.0,1718.3 L763.3,1745.0" fill="none" stroke="#000" stroke-width="1.6" />
<path d="M765.0,1760.0 L793.3,1775.0" fill="none" stroke="#000" stroke-width="1.6" />
<path d="M432.3,741.2 L567.3,764.6" fill="none" stroke="#000" stroke-width="1.6" />
<path d="M473.2,1429.2 L566.4,1453.0" fill="none" stroke="#000" stroke-width="1.6" />
<path d="M473.2,1769.8 L565.8,1792.0" fill="none" stroke="#000" stroke-width="1.6" />
</g>
<g id="wm" style="mix-blend-mode:multiply"><text transform="translate(26.8,787.6) rotate(32)" font-size="153" font-weight="bold" letter-spacing="11.5" fill="#e1e1e1" stroke="#e1e1e1" stroke-width="5" font-family="Liberation Sans, sans-serif">Flood <tspan dx="-5">M</tspan><tspan letter-spacing="14.5">arine </tspan><tspan dx="-2">Services</tspan></text></g>
<g id="b5">
<rect x="1511.3" y="2263.8" width="190" height="80" fill="none" stroke="#000" stroke-width="3.8"/>
<text transform="translate(1580.5,2338) scale(0.95,1)" font-size="101.5" font-weight="bold" font-family="Liberation Sans, sans-serif">B</text>
<text x="1651" y="2339.5" font-size="74" font-weight="bold" font-family="Liberation Sans, sans-serif">5</text>
</g>
<g transform="translate(200,1880) scale(0.166667)">
<path d="M440,522 L620,228 L660,252 L668,300 L945,130 L990,155 L990,388 L672,570 L665,655 Z" fill="none" stroke="#000" stroke-width="14" stroke-linejoin="round"/>
<path d="M485,545 L660,252 M668,335 L985,168 M485,545 L665,655 M668,300 L668,335" fill="none" stroke="#000" stroke-width="12"/>
</g>
<text transform="translate(309,1971) skewY(-28) scale(0.72,1)" font-size="34" font-weight="bold" stroke="#000" stroke-width="1" font-family="Liberation Sans, sans-serif">FWD</text>
<text transform="translate(223.5,2031.5) scale(1.2,1)" font-size="25.6" font-family="Liberation Sans, sans-serif">6880010-4050</text>
</svg>
</body></html>
